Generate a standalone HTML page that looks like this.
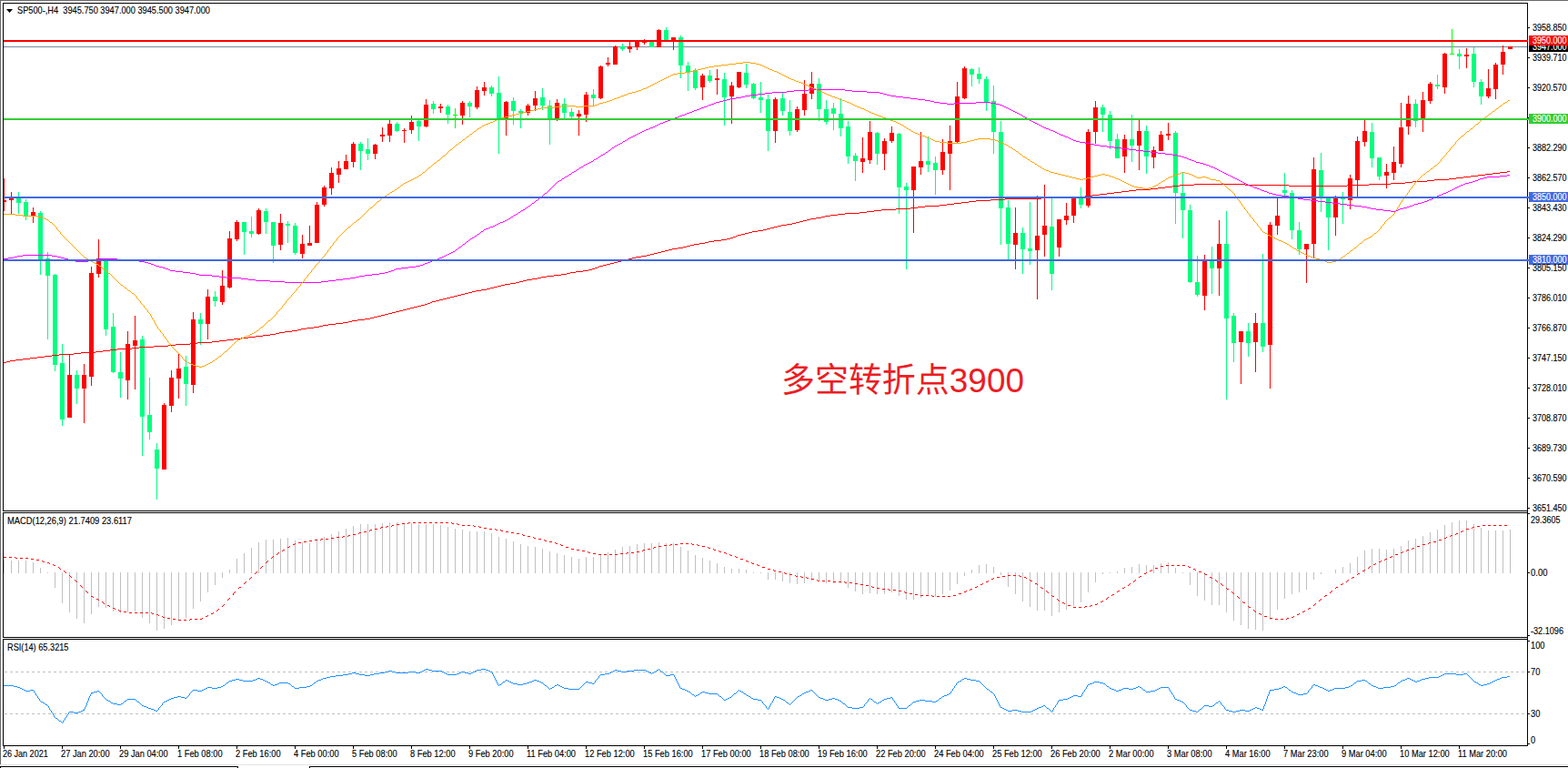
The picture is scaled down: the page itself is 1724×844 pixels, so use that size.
<!DOCTYPE html>
<html><head><meta charset="utf-8"><title>SP500-,H4</title>
<style>html,body{margin:0;padding:0;background:#fff;overflow:hidden}body{width:1724px;height:844px;font-family:"Liberation Sans",sans-serif}svg text{font-family:"Liberation Sans",sans-serif}</style>
</head><body>
<svg width="1724" height="844" viewBox="0 0 1724 844" font-family="Liberation Sans, sans-serif" style="display:block">
<rect x="0" y="0" width="1724" height="844" fill="#fff"/>
<g shape-rendering="crispEdges">
<rect x="0" y="0" width="1724" height="1" fill="#696969"/>
<rect x="0" y="0" width="1" height="840" fill="#696969"/>
<rect x="0" y="840" width="1724" height="1" fill="#e3e3e3"/>
<rect x="0" y="842" width="262" height="1" fill="#000"/>
<rect x="340" y="842" width="1384" height="1" fill="#000"/>
<rect x="261" y="842" width="1" height="2" fill="#000"/>
<rect x="340" y="842" width="1" height="2" fill="#000"/>
<rect x="0" y="842" width="1" height="2" fill="#000"/>
<rect x="3" y="3" width="1677" height="1" fill="#000"/>
<rect x="3" y="561" width="1677" height="1" fill="#000"/>
<rect x="3" y="3" width="1" height="559" fill="#000"/>
<rect x="3" y="563" width="1677" height="1" fill="#000"/>
<rect x="3" y="700" width="1677" height="1" fill="#000"/>
<rect x="3" y="563" width="1" height="138" fill="#000"/>
<rect x="3" y="702" width="1677" height="1" fill="#000"/>
<rect x="3" y="819" width="1677" height="1" fill="#000"/>
<rect x="3" y="702" width="1" height="118" fill="#000"/>
<rect x="1679" y="3" width="1" height="817" fill="#000"/>
</g>
<clipPath id="cm"><rect x="4" y="4" width="1675" height="557"/></clipPath>
<g clip-path="url(#cm)" shape-rendering="crispEdges">
<rect x="4" y="51" width="1676" height="1" fill="#778899"/>
</g>
<g clip-path="url(#cm)" shape-rendering="crispEdges">
<rect x="4" y="196" width="1" height="36" fill="#ff0000"/>
<rect x="2" y="220" width="5" height="2" fill="#ff0000"/>
<rect x="12" y="211" width="1" height="24" fill="#ff0000"/>
<rect x="10" y="217" width="5" height="3" fill="#ff0000"/>
<rect x="20" y="211" width="1" height="24" fill="#00ff7f"/>
<rect x="18" y="217" width="5" height="6" fill="#00ff7f"/>
<rect x="28" y="219" width="1" height="23" fill="#00ff7f"/>
<rect x="26" y="222" width="5" height="15" fill="#00ff7f"/>
<rect x="36" y="228" width="1" height="17" fill="#ff0000"/>
<rect x="34" y="233" width="5" height="4" fill="#ff0000"/>
<rect x="44" y="232" width="1" height="70" fill="#00ff7f"/>
<rect x="42" y="234" width="5" height="52" fill="#00ff7f"/>
<rect x="52" y="277" width="1" height="96" fill="#00ff7f"/>
<rect x="50" y="284" width="5" height="19" fill="#00ff7f"/>
<rect x="60" y="301" width="1" height="107" fill="#00ff7f"/>
<rect x="58" y="302" width="5" height="99" fill="#00ff7f"/>
<rect x="68" y="378" width="1" height="90" fill="#00ff7f"/>
<rect x="66" y="399" width="5" height="62" fill="#00ff7f"/>
<rect x="76" y="389" width="1" height="70" fill="#ff0000"/>
<rect x="74" y="412" width="5" height="47" fill="#ff0000"/>
<rect x="84" y="407" width="1" height="37" fill="#00ff7f"/>
<rect x="82" y="412" width="5" height="15" fill="#00ff7f"/>
<rect x="92" y="400" width="1" height="65" fill="#ff0000"/>
<rect x="90" y="412" width="5" height="15" fill="#ff0000"/>
<rect x="100" y="293" width="1" height="131" fill="#ff0000"/>
<rect x="98" y="300" width="5" height="114" fill="#ff0000"/>
<rect x="108" y="263" width="1" height="42" fill="#ff0000"/>
<rect x="106" y="284" width="5" height="17" fill="#ff0000"/>
<rect x="116" y="284" width="1" height="85" fill="#00ff7f"/>
<rect x="114" y="286" width="5" height="76" fill="#00ff7f"/>
<rect x="124" y="344" width="1" height="66" fill="#00ff7f"/>
<rect x="122" y="359" width="5" height="50" fill="#00ff7f"/>
<rect x="132" y="387" width="1" height="50" fill="#00ff7f"/>
<rect x="130" y="409" width="5" height="7" fill="#00ff7f"/>
<rect x="140" y="364" width="1" height="75" fill="#ff0000"/>
<rect x="138" y="378" width="5" height="40" fill="#ff0000"/>
<rect x="148" y="347" width="1" height="81" fill="#ff0000"/>
<rect x="146" y="374" width="5" height="6" fill="#ff0000"/>
<rect x="156" y="369" width="1" height="132" fill="#00ff7f"/>
<rect x="154" y="373" width="5" height="85" fill="#00ff7f"/>
<rect x="164" y="415" width="1" height="68" fill="#00ff7f"/>
<rect x="162" y="456" width="5" height="19" fill="#00ff7f"/>
<rect x="172" y="487" width="1" height="62" fill="#00ff7f"/>
<rect x="170" y="494" width="5" height="21" fill="#00ff7f"/>
<rect x="180" y="443" width="1" height="73" fill="#ff0000"/>
<rect x="178" y="445" width="5" height="71" fill="#ff0000"/>
<rect x="188" y="407" width="1" height="46" fill="#ff0000"/>
<rect x="186" y="415" width="5" height="31" fill="#ff0000"/>
<rect x="196" y="388" width="1" height="50" fill="#ff0000"/>
<rect x="194" y="405" width="5" height="11" fill="#ff0000"/>
<rect x="204" y="391" width="1" height="55" fill="#00ff7f"/>
<rect x="202" y="403" width="5" height="19" fill="#00ff7f"/>
<rect x="212" y="343" width="1" height="89" fill="#ff0000"/>
<rect x="210" y="351" width="5" height="72" fill="#ff0000"/>
<rect x="220" y="344" width="1" height="35" fill="#00ff7f"/>
<rect x="218" y="351" width="5" height="5" fill="#00ff7f"/>
<rect x="228" y="318" width="1" height="55" fill="#ff0000"/>
<rect x="226" y="326" width="5" height="30" fill="#ff0000"/>
<rect x="236" y="320" width="1" height="17" fill="#00ff7f"/>
<rect x="234" y="326" width="5" height="5" fill="#00ff7f"/>
<rect x="244" y="297" width="1" height="38" fill="#ff0000"/>
<rect x="242" y="314" width="5" height="18" fill="#ff0000"/>
<rect x="252" y="254" width="1" height="63" fill="#ff0000"/>
<rect x="250" y="262" width="5" height="54" fill="#ff0000"/>
<rect x="260" y="242" width="1" height="23" fill="#ff0000"/>
<rect x="258" y="244" width="5" height="19" fill="#ff0000"/>
<rect x="268" y="244" width="1" height="36" fill="#00ff7f"/>
<rect x="266" y="244" width="5" height="11" fill="#00ff7f"/>
<rect x="276" y="238" width="1" height="23" fill="#00ff7f"/>
<rect x="274" y="254" width="5" height="3" fill="#00ff7f"/>
<rect x="284" y="229" width="1" height="29" fill="#ff0000"/>
<rect x="282" y="231" width="5" height="26" fill="#ff0000"/>
<rect x="292" y="229" width="1" height="28" fill="#00ff7f"/>
<rect x="290" y="232" width="5" height="12" fill="#00ff7f"/>
<rect x="300" y="244" width="1" height="45" fill="#00ff7f"/>
<rect x="298" y="244" width="5" height="26" fill="#00ff7f"/>
<rect x="308" y="235" width="1" height="40" fill="#ff0000"/>
<rect x="306" y="245" width="5" height="24" fill="#ff0000"/>
<rect x="316" y="243" width="1" height="24" fill="#00ff7f"/>
<rect x="314" y="246" width="5" height="2" fill="#00ff7f"/>
<rect x="324" y="245" width="1" height="35" fill="#00ff7f"/>
<rect x="322" y="248" width="5" height="30" fill="#00ff7f"/>
<rect x="332" y="258" width="1" height="26" fill="#ff0000"/>
<rect x="330" y="268" width="5" height="11" fill="#ff0000"/>
<rect x="340" y="248" width="1" height="21" fill="#ff0000"/>
<rect x="338" y="267" width="5" height="3" fill="#ff0000"/>
<rect x="348" y="222" width="1" height="45" fill="#ff0000"/>
<rect x="346" y="225" width="5" height="42" fill="#ff0000"/>
<rect x="356" y="204" width="1" height="23" fill="#ff0000"/>
<rect x="354" y="206" width="5" height="19" fill="#ff0000"/>
<rect x="364" y="184" width="1" height="30" fill="#ff0000"/>
<rect x="362" y="190" width="5" height="17" fill="#ff0000"/>
<rect x="372" y="177" width="1" height="24" fill="#ff0000"/>
<rect x="370" y="185" width="5" height="7" fill="#ff0000"/>
<rect x="380" y="170" width="1" height="16" fill="#ff0000"/>
<rect x="378" y="177" width="5" height="9" fill="#ff0000"/>
<rect x="388" y="156" width="1" height="28" fill="#ff0000"/>
<rect x="386" y="158" width="5" height="20" fill="#ff0000"/>
<rect x="396" y="156" width="1" height="31" fill="#00ff7f"/>
<rect x="394" y="158" width="5" height="8" fill="#00ff7f"/>
<rect x="404" y="152" width="1" height="24" fill="#00ff7f"/>
<rect x="402" y="164" width="5" height="5" fill="#00ff7f"/>
<rect x="412" y="158" width="1" height="17" fill="#ff0000"/>
<rect x="410" y="159" width="5" height="10" fill="#ff0000"/>
<rect x="420" y="140" width="1" height="16" fill="#ff0000"/>
<rect x="418" y="148" width="5" height="2" fill="#ff0000"/>
<rect x="428" y="131" width="1" height="25" fill="#ff0000"/>
<rect x="426" y="136" width="5" height="13" fill="#ff0000"/>
<rect x="436" y="134" width="1" height="11" fill="#00ff7f"/>
<rect x="434" y="136" width="5" height="8" fill="#00ff7f"/>
<rect x="444" y="141" width="1" height="16" fill="#ff0000"/>
<rect x="442" y="143" width="5" height="1" fill="#ff0000"/>
<rect x="452" y="127" width="1" height="20" fill="#ff0000"/>
<rect x="450" y="134" width="5" height="9" fill="#ff0000"/>
<rect x="460" y="131" width="1" height="24" fill="#00ff7f"/>
<rect x="458" y="133" width="5" height="6" fill="#00ff7f"/>
<rect x="468" y="109" width="1" height="31" fill="#ff0000"/>
<rect x="466" y="115" width="5" height="24" fill="#ff0000"/>
<rect x="476" y="111" width="1" height="14" fill="#00ff7f"/>
<rect x="474" y="114" width="5" height="6" fill="#00ff7f"/>
<rect x="484" y="114" width="1" height="10" fill="#ff0000"/>
<rect x="482" y="117" width="5" height="2" fill="#ff0000"/>
<rect x="492" y="115" width="1" height="21" fill="#00ff7f"/>
<rect x="490" y="117" width="5" height="9" fill="#00ff7f"/>
<rect x="500" y="119" width="1" height="22" fill="#00ff00"/>
<rect x="498" y="126" width="5" height="1" fill="#00ff00"/>
<rect x="508" y="111" width="1" height="26" fill="#ff0000"/>
<rect x="506" y="113" width="5" height="14" fill="#ff0000"/>
<rect x="516" y="111" width="1" height="18" fill="#00ff7f"/>
<rect x="514" y="113" width="5" height="4" fill="#00ff7f"/>
<rect x="524" y="95" width="1" height="25" fill="#ff0000"/>
<rect x="522" y="99" width="5" height="19" fill="#ff0000"/>
<rect x="532" y="90" width="1" height="15" fill="#ff0000"/>
<rect x="530" y="96" width="5" height="4" fill="#ff0000"/>
<rect x="540" y="94" width="1" height="12" fill="#00ff7f"/>
<rect x="538" y="96" width="5" height="7" fill="#00ff7f"/>
<rect x="548" y="84" width="1" height="85" fill="#00ff7f"/>
<rect x="546" y="102" width="5" height="30" fill="#00ff7f"/>
<rect x="556" y="111" width="1" height="38" fill="#ff0000"/>
<rect x="554" y="112" width="5" height="18" fill="#ff0000"/>
<rect x="564" y="107" width="1" height="30" fill="#00ff7f"/>
<rect x="562" y="111" width="5" height="11" fill="#00ff7f"/>
<rect x="572" y="120" width="1" height="21" fill="#00ff7f"/>
<rect x="570" y="122" width="5" height="2" fill="#00ff7f"/>
<rect x="580" y="114" width="1" height="13" fill="#ff0000"/>
<rect x="578" y="116" width="5" height="8" fill="#ff0000"/>
<rect x="588" y="100" width="1" height="22" fill="#ff0000"/>
<rect x="586" y="108" width="5" height="8" fill="#ff0000"/>
<rect x="596" y="97" width="1" height="24" fill="#00ff7f"/>
<rect x="594" y="107" width="5" height="9" fill="#00ff7f"/>
<rect x="604" y="110" width="1" height="49" fill="#00ff7f"/>
<rect x="602" y="116" width="5" height="15" fill="#00ff7f"/>
<rect x="612" y="109" width="1" height="24" fill="#ff0000"/>
<rect x="610" y="113" width="5" height="18" fill="#ff0000"/>
<rect x="620" y="108" width="1" height="22" fill="#00ff7f"/>
<rect x="618" y="114" width="5" height="10" fill="#00ff7f"/>
<rect x="628" y="119" width="1" height="11" fill="#00ff7f"/>
<rect x="626" y="123" width="5" height="5" fill="#00ff7f"/>
<rect x="636" y="121" width="1" height="28" fill="#ff0000"/>
<rect x="634" y="125" width="5" height="3" fill="#ff0000"/>
<rect x="644" y="101" width="1" height="33" fill="#ff0000"/>
<rect x="642" y="104" width="5" height="22" fill="#ff0000"/>
<rect x="652" y="98" width="1" height="19" fill="#00ff7f"/>
<rect x="650" y="104" width="5" height="4" fill="#00ff7f"/>
<rect x="660" y="72" width="1" height="37" fill="#ff0000"/>
<rect x="658" y="73" width="5" height="35" fill="#ff0000"/>
<rect x="668" y="63" width="1" height="10" fill="#ff0000"/>
<rect x="666" y="69" width="5" height="2" fill="#ff0000"/>
<rect x="676" y="50" width="1" height="21" fill="#ff0000"/>
<rect x="674" y="51" width="5" height="20" fill="#ff0000"/>
<rect x="684" y="48" width="1" height="8" fill="#00ff7f"/>
<rect x="682" y="51" width="5" height="3" fill="#00ff7f"/>
<rect x="692" y="45" width="1" height="13" fill="#ff0000"/>
<rect x="690" y="51" width="5" height="3" fill="#ff0000"/>
<rect x="700" y="44" width="1" height="11" fill="#ff0000"/>
<rect x="698" y="45" width="5" height="7" fill="#ff0000"/>
<rect x="708" y="43" width="1" height="6" fill="#ff0000"/>
<rect x="706" y="44" width="5" height="3" fill="#ff0000"/>
<rect x="716" y="46" width="1" height="6" fill="#00ff7f"/>
<rect x="714" y="46" width="5" height="6" fill="#00ff7f"/>
<rect x="724" y="32" width="1" height="20" fill="#ff0000"/>
<rect x="722" y="33" width="5" height="19" fill="#ff0000"/>
<rect x="732" y="30" width="1" height="14" fill="#00ff7f"/>
<rect x="730" y="33" width="5" height="11" fill="#00ff7f"/>
<rect x="740" y="41" width="1" height="14" fill="#ff0000"/>
<rect x="738" y="41" width="5" height="4" fill="#ff0000"/>
<rect x="748" y="39" width="1" height="47" fill="#00ff7f"/>
<rect x="746" y="41" width="5" height="31" fill="#00ff7f"/>
<rect x="756" y="68" width="1" height="32" fill="#00ff7f"/>
<rect x="754" y="72" width="5" height="7" fill="#00ff7f"/>
<rect x="764" y="75" width="1" height="24" fill="#00ff7f"/>
<rect x="762" y="77" width="5" height="20" fill="#00ff7f"/>
<rect x="772" y="81" width="1" height="29" fill="#ff0000"/>
<rect x="770" y="83" width="5" height="13" fill="#ff0000"/>
<rect x="780" y="77" width="1" height="14" fill="#00ff7f"/>
<rect x="778" y="83" width="5" height="6" fill="#00ff7f"/>
<rect x="788" y="76" width="1" height="28" fill="#ff0000"/>
<rect x="786" y="86" width="5" height="2" fill="#ff0000"/>
<rect x="796" y="80" width="1" height="58" fill="#00ff7f"/>
<rect x="794" y="87" width="5" height="20" fill="#00ff7f"/>
<rect x="804" y="90" width="1" height="46" fill="#ff0000"/>
<rect x="802" y="94" width="5" height="12" fill="#ff0000"/>
<rect x="812" y="79" width="1" height="18" fill="#ff0000"/>
<rect x="810" y="79" width="5" height="17" fill="#ff0000"/>
<rect x="820" y="70" width="1" height="27" fill="#00ff7f"/>
<rect x="818" y="80" width="5" height="13" fill="#00ff7f"/>
<rect x="828" y="91" width="1" height="18" fill="#00ff7f"/>
<rect x="826" y="92" width="5" height="16" fill="#00ff7f"/>
<rect x="836" y="90" width="1" height="34" fill="#00ff7f"/>
<rect x="834" y="107" width="5" height="3" fill="#00ff7f"/>
<rect x="844" y="104" width="1" height="62" fill="#00ff7f"/>
<rect x="842" y="109" width="5" height="35" fill="#00ff7f"/>
<rect x="852" y="107" width="1" height="50" fill="#ff0000"/>
<rect x="850" y="109" width="5" height="35" fill="#ff0000"/>
<rect x="860" y="101" width="1" height="26" fill="#00ff7f"/>
<rect x="858" y="108" width="5" height="14" fill="#00ff7f"/>
<rect x="868" y="110" width="1" height="39" fill="#00ff7f"/>
<rect x="866" y="123" width="5" height="21" fill="#00ff7f"/>
<rect x="876" y="117" width="1" height="28" fill="#ff0000"/>
<rect x="874" y="120" width="5" height="23" fill="#ff0000"/>
<rect x="884" y="88" width="1" height="39" fill="#ff0000"/>
<rect x="882" y="103" width="5" height="18" fill="#ff0000"/>
<rect x="892" y="79" width="1" height="30" fill="#ff0000"/>
<rect x="890" y="92" width="5" height="11" fill="#ff0000"/>
<rect x="900" y="86" width="1" height="47" fill="#00ff7f"/>
<rect x="898" y="92" width="5" height="28" fill="#00ff7f"/>
<rect x="908" y="110" width="1" height="27" fill="#00ff7f"/>
<rect x="906" y="120" width="5" height="14" fill="#00ff7f"/>
<rect x="916" y="113" width="1" height="30" fill="#00ff7f"/>
<rect x="914" y="119" width="5" height="6" fill="#00ff7f"/>
<rect x="924" y="108" width="1" height="42" fill="#00ff7f"/>
<rect x="922" y="125" width="5" height="16" fill="#00ff7f"/>
<rect x="932" y="133" width="1" height="47" fill="#00ff7f"/>
<rect x="930" y="139" width="5" height="33" fill="#00ff7f"/>
<rect x="940" y="168" width="1" height="31" fill="#00ff7f"/>
<rect x="938" y="171" width="5" height="6" fill="#00ff7f"/>
<rect x="948" y="151" width="1" height="39" fill="#ff0000"/>
<rect x="946" y="174" width="5" height="4" fill="#ff0000"/>
<rect x="956" y="133" width="1" height="47" fill="#ff0000"/>
<rect x="954" y="145" width="5" height="31" fill="#ff0000"/>
<rect x="964" y="145" width="1" height="36" fill="#00ff7f"/>
<rect x="962" y="146" width="5" height="23" fill="#00ff7f"/>
<rect x="972" y="152" width="1" height="35" fill="#ff0000"/>
<rect x="970" y="155" width="5" height="14" fill="#ff0000"/>
<rect x="980" y="139" width="1" height="18" fill="#ff0000"/>
<rect x="978" y="146" width="5" height="9" fill="#ff0000"/>
<rect x="988" y="146" width="1" height="89" fill="#00ff7f"/>
<rect x="986" y="147" width="5" height="59" fill="#00ff7f"/>
<rect x="996" y="201" width="1" height="95" fill="#00ff7f"/>
<rect x="994" y="205" width="5" height="4" fill="#00ff7f"/>
<rect x="1004" y="183" width="1" height="73" fill="#ff0000"/>
<rect x="1002" y="183" width="5" height="26" fill="#ff0000"/>
<rect x="1012" y="145" width="1" height="47" fill="#ff0000"/>
<rect x="1010" y="177" width="5" height="7" fill="#ff0000"/>
<rect x="1020" y="150" width="1" height="39" fill="#00ff7f"/>
<rect x="1018" y="177" width="5" height="4" fill="#00ff7f"/>
<rect x="1028" y="172" width="1" height="42" fill="#00ff7f"/>
<rect x="1026" y="179" width="5" height="8" fill="#00ff7f"/>
<rect x="1036" y="153" width="1" height="39" fill="#ff0000"/>
<rect x="1034" y="167" width="5" height="20" fill="#ff0000"/>
<rect x="1044" y="138" width="1" height="71" fill="#ff0000"/>
<rect x="1042" y="155" width="5" height="14" fill="#ff0000"/>
<rect x="1052" y="90" width="1" height="67" fill="#ff0000"/>
<rect x="1050" y="106" width="5" height="50" fill="#ff0000"/>
<rect x="1060" y="73" width="1" height="36" fill="#ff0000"/>
<rect x="1058" y="75" width="5" height="33" fill="#ff0000"/>
<rect x="1068" y="75" width="1" height="20" fill="#00ff7f"/>
<rect x="1066" y="76" width="5" height="6" fill="#00ff7f"/>
<rect x="1076" y="74" width="1" height="18" fill="#00ff7f"/>
<rect x="1074" y="81" width="5" height="6" fill="#00ff7f"/>
<rect x="1084" y="84" width="1" height="38" fill="#00ff7f"/>
<rect x="1082" y="87" width="5" height="26" fill="#00ff7f"/>
<rect x="1092" y="94" width="1" height="75" fill="#00ff7f"/>
<rect x="1090" y="111" width="5" height="34" fill="#00ff7f"/>
<rect x="1100" y="133" width="1" height="136" fill="#00ff7f"/>
<rect x="1098" y="145" width="5" height="84" fill="#00ff7f"/>
<rect x="1108" y="220" width="1" height="65" fill="#00ff7f"/>
<rect x="1106" y="228" width="5" height="40" fill="#00ff7f"/>
<rect x="1116" y="228" width="1" height="68" fill="#ff0000"/>
<rect x="1114" y="256" width="5" height="13" fill="#ff0000"/>
<rect x="1124" y="250" width="1" height="51" fill="#00ff7f"/>
<rect x="1122" y="256" width="5" height="18" fill="#00ff7f"/>
<rect x="1132" y="222" width="1" height="69" fill="#00ff7f"/>
<rect x="1130" y="273" width="5" height="3" fill="#00ff7f"/>
<rect x="1140" y="215" width="1" height="114" fill="#ff0000"/>
<rect x="1138" y="259" width="5" height="16" fill="#ff0000"/>
<rect x="1148" y="203" width="1" height="79" fill="#ff0000"/>
<rect x="1146" y="248" width="5" height="10" fill="#ff0000"/>
<rect x="1156" y="218" width="1" height="101" fill="#00ff7f"/>
<rect x="1154" y="249" width="5" height="52" fill="#00ff7f"/>
<rect x="1164" y="241" width="1" height="41" fill="#ff0000"/>
<rect x="1162" y="241" width="5" height="31" fill="#ff0000"/>
<rect x="1172" y="223" width="1" height="24" fill="#ff0000"/>
<rect x="1170" y="237" width="5" height="5" fill="#ff0000"/>
<rect x="1180" y="217" width="1" height="28" fill="#ff0000"/>
<rect x="1178" y="218" width="5" height="19" fill="#ff0000"/>
<rect x="1188" y="206" width="1" height="23" fill="#00ff7f"/>
<rect x="1186" y="217" width="5" height="8" fill="#00ff7f"/>
<rect x="1196" y="142" width="1" height="86" fill="#ff0000"/>
<rect x="1194" y="145" width="5" height="81" fill="#ff0000"/>
<rect x="1204" y="111" width="1" height="47" fill="#ff0000"/>
<rect x="1202" y="118" width="5" height="27" fill="#ff0000"/>
<rect x="1212" y="115" width="1" height="30" fill="#00ff7f"/>
<rect x="1210" y="118" width="5" height="8" fill="#00ff7f"/>
<rect x="1220" y="122" width="1" height="42" fill="#00ff7f"/>
<rect x="1218" y="126" width="5" height="29" fill="#00ff7f"/>
<rect x="1228" y="147" width="1" height="27" fill="#00ff7f"/>
<rect x="1226" y="153" width="5" height="21" fill="#00ff7f"/>
<rect x="1236" y="148" width="1" height="42" fill="#ff0000"/>
<rect x="1234" y="153" width="5" height="19" fill="#ff0000"/>
<rect x="1244" y="126" width="1" height="52" fill="#00ff7f"/>
<rect x="1242" y="153" width="5" height="7" fill="#00ff7f"/>
<rect x="1252" y="131" width="1" height="56" fill="#ff0000"/>
<rect x="1250" y="144" width="5" height="16" fill="#ff0000"/>
<rect x="1260" y="138" width="1" height="53" fill="#00ff7f"/>
<rect x="1258" y="144" width="5" height="28" fill="#00ff7f"/>
<rect x="1268" y="161" width="1" height="24" fill="#ff0000"/>
<rect x="1266" y="165" width="5" height="8" fill="#ff0000"/>
<rect x="1276" y="144" width="1" height="22" fill="#ff0000"/>
<rect x="1274" y="148" width="5" height="18" fill="#ff0000"/>
<rect x="1284" y="135" width="1" height="19" fill="#ff0000"/>
<rect x="1282" y="147" width="5" height="2" fill="#ff0000"/>
<rect x="1292" y="144" width="1" height="102" fill="#00ff7f"/>
<rect x="1290" y="146" width="5" height="66" fill="#00ff7f"/>
<rect x="1300" y="190" width="1" height="72" fill="#00ff7f"/>
<rect x="1298" y="212" width="5" height="19" fill="#00ff7f"/>
<rect x="1308" y="225" width="1" height="86" fill="#00ff7f"/>
<rect x="1306" y="231" width="5" height="79" fill="#00ff7f"/>
<rect x="1316" y="281" width="1" height="45" fill="#00ff7f"/>
<rect x="1314" y="310" width="5" height="14" fill="#00ff7f"/>
<rect x="1324" y="280" width="1" height="61" fill="#ff0000"/>
<rect x="1322" y="287" width="5" height="38" fill="#ff0000"/>
<rect x="1332" y="271" width="1" height="52" fill="#00ff7f"/>
<rect x="1330" y="287" width="5" height="8" fill="#00ff7f"/>
<rect x="1340" y="242" width="1" height="83" fill="#ff0000"/>
<rect x="1338" y="268" width="5" height="27" fill="#ff0000"/>
<rect x="1348" y="232" width="1" height="207" fill="#00ff7f"/>
<rect x="1346" y="268" width="5" height="82" fill="#00ff7f"/>
<rect x="1356" y="344" width="1" height="54" fill="#00ff7f"/>
<rect x="1354" y="347" width="5" height="30" fill="#00ff7f"/>
<rect x="1364" y="364" width="1" height="58" fill="#ff0000"/>
<rect x="1362" y="364" width="5" height="12" fill="#ff0000"/>
<rect x="1372" y="355" width="1" height="37" fill="#00ff7f"/>
<rect x="1370" y="364" width="5" height="13" fill="#00ff7f"/>
<rect x="1380" y="344" width="1" height="65" fill="#ff0000"/>
<rect x="1378" y="355" width="5" height="21" fill="#ff0000"/>
<rect x="1388" y="279" width="1" height="108" fill="#00ff7f"/>
<rect x="1386" y="355" width="5" height="26" fill="#00ff7f"/>
<rect x="1396" y="244" width="1" height="183" fill="#ff0000"/>
<rect x="1394" y="247" width="5" height="132" fill="#ff0000"/>
<rect x="1404" y="218" width="1" height="40" fill="#ff0000"/>
<rect x="1402" y="237" width="5" height="11" fill="#ff0000"/>
<rect x="1412" y="190" width="1" height="26" fill="#00ff7f"/>
<rect x="1410" y="209" width="5" height="3" fill="#00ff7f"/>
<rect x="1420" y="209" width="1" height="54" fill="#00ff7f"/>
<rect x="1418" y="212" width="5" height="41" fill="#00ff7f"/>
<rect x="1428" y="244" width="1" height="36" fill="#00ff7f"/>
<rect x="1426" y="253" width="5" height="21" fill="#00ff7f"/>
<rect x="1436" y="268" width="1" height="43" fill="#ff0000"/>
<rect x="1434" y="268" width="5" height="6" fill="#ff0000"/>
<rect x="1444" y="173" width="1" height="111" fill="#ff0000"/>
<rect x="1442" y="186" width="5" height="82" fill="#ff0000"/>
<rect x="1452" y="168" width="1" height="65" fill="#00ff7f"/>
<rect x="1450" y="187" width="5" height="31" fill="#00ff7f"/>
<rect x="1460" y="218" width="1" height="57" fill="#00ff7f"/>
<rect x="1458" y="218" width="5" height="21" fill="#00ff7f"/>
<rect x="1468" y="215" width="1" height="44" fill="#ff0000"/>
<rect x="1466" y="218" width="5" height="21" fill="#ff0000"/>
<rect x="1476" y="211" width="1" height="35" fill="#00ff7f"/>
<rect x="1474" y="217" width="5" height="2" fill="#00ff7f"/>
<rect x="1484" y="192" width="1" height="38" fill="#ff0000"/>
<rect x="1482" y="196" width="5" height="24" fill="#ff0000"/>
<rect x="1492" y="150" width="1" height="66" fill="#ff0000"/>
<rect x="1490" y="155" width="5" height="43" fill="#ff0000"/>
<rect x="1500" y="131" width="1" height="30" fill="#ff0000"/>
<rect x="1498" y="144" width="5" height="12" fill="#ff0000"/>
<rect x="1508" y="135" width="1" height="49" fill="#00ff7f"/>
<rect x="1506" y="145" width="5" height="29" fill="#00ff7f"/>
<rect x="1516" y="173" width="1" height="25" fill="#00ff7f"/>
<rect x="1514" y="173" width="5" height="21" fill="#00ff7f"/>
<rect x="1524" y="180" width="1" height="27" fill="#ff0000"/>
<rect x="1522" y="189" width="5" height="4" fill="#ff0000"/>
<rect x="1532" y="161" width="1" height="37" fill="#ff0000"/>
<rect x="1530" y="178" width="5" height="12" fill="#ff0000"/>
<rect x="1540" y="113" width="1" height="71" fill="#ff0000"/>
<rect x="1538" y="140" width="5" height="40" fill="#ff0000"/>
<rect x="1548" y="105" width="1" height="43" fill="#ff0000"/>
<rect x="1546" y="114" width="5" height="25" fill="#ff0000"/>
<rect x="1556" y="109" width="1" height="31" fill="#00ff7f"/>
<rect x="1554" y="114" width="5" height="19" fill="#00ff7f"/>
<rect x="1564" y="101" width="1" height="44" fill="#ff0000"/>
<rect x="1562" y="110" width="5" height="20" fill="#ff0000"/>
<rect x="1572" y="90" width="1" height="24" fill="#ff0000"/>
<rect x="1570" y="92" width="5" height="19" fill="#ff0000"/>
<rect x="1580" y="82" width="1" height="16" fill="#00ff7f"/>
<rect x="1578" y="93" width="5" height="2" fill="#00ff7f"/>
<rect x="1588" y="58" width="1" height="45" fill="#ff0000"/>
<rect x="1586" y="59" width="5" height="37" fill="#ff0000"/>
<rect x="1596" y="32" width="1" height="27" fill="#00ff00"/>
<rect x="1594" y="59" width="5" height="1" fill="#00ff00"/>
<rect x="1604" y="54" width="1" height="22" fill="#00ff7f"/>
<rect x="1602" y="59" width="5" height="3" fill="#00ff7f"/>
<rect x="1612" y="53" width="1" height="22" fill="#ff0000"/>
<rect x="1610" y="60" width="5" height="2" fill="#ff0000"/>
<rect x="1620" y="52" width="1" height="44" fill="#00ff7f"/>
<rect x="1618" y="59" width="5" height="31" fill="#00ff7f"/>
<rect x="1628" y="87" width="1" height="28" fill="#00ff7f"/>
<rect x="1626" y="90" width="5" height="16" fill="#00ff7f"/>
<rect x="1636" y="76" width="1" height="32" fill="#ff0000"/>
<rect x="1634" y="97" width="5" height="9" fill="#ff0000"/>
<rect x="1644" y="69" width="1" height="40" fill="#ff0000"/>
<rect x="1642" y="71" width="5" height="27" fill="#ff0000"/>
<rect x="1652" y="50" width="1" height="32" fill="#ff0000"/>
<rect x="1650" y="57" width="5" height="14" fill="#ff0000"/>
<rect x="1660" y="51" width="1" height="3" fill="#ff0000"/>
<rect x="1658" y="51" width="5" height="3" fill="#ff0000"/>
<path fill="#ff0000" d="M1657 188h3v1h-3zM1649 189h8v1h-8zM1641 190h8v1h-8zM1633 191h8v1h-8zM1625 192h8v1h-8zM1617 193h8v1h-8zM1609 194h8v1h-8zM1601 195h8v1h-8zM1593 196h8v1h-8zM1577 197h16v1h-16zM1569 198h8v1h-8zM1553 199h16v1h-16zM1545 200h8v1h-8zM1529 201h16v1h-16zM1313 202h56v1h-56zM1505 202h24v1h-24zM1297 203h16v1h-16zM1369 203h48v1h-48zM1481 203h24v1h-24zM1289 204h8v1h-8zM1417 204h64v1h-64zM1281 205h8v1h-8zM1273 206h8v1h-8zM1265 207h8v1h-8zM1249 208h16v1h-16zM1241 209h8v1h-8zM1233 210h8v1h-8zM1225 211h8v1h-8zM1217 212h8v1h-8zM1209 213h8v1h-8zM1201 214h8v1h-8zM1193 215h8v1h-8zM1169 216h24v1h-24zM1145 217h24v1h-24zM1105 218h40v1h-40zM1089 219h16v1h-16zM1073 220h16v1h-16zM1065 221h8v1h-8zM1057 222h8v1h-8zM1049 223h8v1h-8zM1041 224h8v1h-8zM1033 225h8v1h-8zM1017 226h16v1h-16zM1009 227h8v1h-8zM1001 228h8v1h-8zM985 229h16v1h-16zM969 230h16v1h-16zM961 231h8v1h-8zM953 232h8v1h-8zM945 233h8v1h-8zM929 234h16v1h-16zM921 235h8v1h-8zM913 236h8v1h-8zM907 237h6v1h-6zM903 238h4v1h-4zM897 239h6v1h-6zM891 240h6v1h-6zM887 241h4v1h-4zM883 242h4v1h-4zM879 243h4v1h-4zM875 244h4v1h-4zM871 245h4v1h-4zM865 246h6v1h-6zM859 247h6v1h-6zM855 248h4v1h-4zM851 249h4v1h-4zM847 250h4v1h-4zM843 251h4v1h-4zM839 252h4v1h-4zM833 253h6v1h-6zM827 254h6v1h-6zM823 255h4v1h-4zM819 256h4v1h-4zM815 257h4v1h-4zM811 258h4v1h-4zM809 259h2v1h-2zM806 260h3v1h-3zM803 261h3v1h-3zM799 262h4v1h-4zM793 263h6v1h-6zM785 264h8v1h-8zM779 265h6v1h-6zM775 266h4v1h-4zM769 267h6v1h-6zM763 268h6v1h-6zM759 269h4v1h-4zM755 270h4v1h-4zM751 271h4v1h-4zM745 272h6v1h-6zM739 273h6v1h-6zM735 274h4v1h-4zM731 275h4v1h-4zM727 276h4v1h-4zM723 277h4v1h-4zM719 278h4v1h-4zM715 279h4v1h-4zM711 280h4v1h-4zM705 281h6v1h-6zM699 282h6v1h-6zM695 283h4v1h-4zM691 284h4v1h-4zM687 285h4v1h-4zM683 286h4v1h-4zM679 287h4v1h-4zM675 288h4v1h-4zM671 289h4v1h-4zM667 290h4v1h-4zM663 291h4v1h-4zM659 292h4v1h-4zM657 293h2v1h-2zM654 294h3v1h-3zM651 295h3v1h-3zM647 296h4v1h-4zM641 297h6v1h-6zM633 298h8v1h-8zM627 299h6v1h-6zM623 300h4v1h-4zM617 301h6v1h-6zM609 302h8v1h-8zM601 303h8v1h-8zM595 304h6v1h-6zM591 305h4v1h-4zM585 306h6v1h-6zM579 307h6v1h-6zM575 308h4v1h-4zM571 309h4v1h-4zM567 310h4v1h-4zM561 311h6v1h-6zM555 312h6v1h-6zM551 313h4v1h-4zM547 314h4v1h-4zM543 315h4v1h-4zM539 316h4v1h-4zM535 317h4v1h-4zM529 318h6v1h-6zM523 319h6v1h-6zM519 320h4v1h-4zM515 321h4v1h-4zM511 322h4v1h-4zM507 323h4v1h-4zM503 324h4v1h-4zM499 325h4v1h-4zM495 326h4v1h-4zM491 327h4v1h-4zM487 328h4v1h-4zM483 329h4v1h-4zM479 330h4v1h-4zM475 331h4v1h-4zM473 332h2v1h-2zM470 333h3v1h-3zM467 334h3v1h-3zM463 335h4v1h-4zM459 336h4v1h-4zM455 337h4v1h-4zM451 338h4v1h-4zM447 339h4v1h-4zM443 340h4v1h-4zM439 341h4v1h-4zM435 342h4v1h-4zM431 343h4v1h-4zM427 344h4v1h-4zM423 345h4v1h-4zM419 346h4v1h-4zM415 347h4v1h-4zM411 348h4v1h-4zM407 349h4v1h-4zM401 350h6v1h-6zM393 351h8v1h-8zM387 352h6v1h-6zM383 353h4v1h-4zM377 354h6v1h-6zM369 355h8v1h-8zM361 356h8v1h-8zM355 357h6v1h-6zM351 358h4v1h-4zM345 359h6v1h-6zM337 360h8v1h-8zM331 361h6v1h-6zM327 362h4v1h-4zM321 363h6v1h-6zM313 364h8v1h-8zM307 365h6v1h-6zM303 366h4v1h-4zM297 367h6v1h-6zM289 368h8v1h-8zM281 369h8v1h-8zM273 370h8v1h-8zM265 371h8v1h-8zM257 372h8v1h-8zM249 373h8v1h-8zM241 374h8v1h-8zM233 375h8v1h-8zM217 376h16v1h-16zM209 377h8v1h-8zM193 378h16v1h-16zM185 379h8v1h-8zM169 380h16v1h-16zM153 381h16v1h-16zM145 382h8v1h-8zM129 383h16v1h-16zM121 384h8v1h-8zM113 385h8v1h-8zM105 386h8v1h-8zM89 387h16v1h-16zM81 388h8v1h-8zM65 389h16v1h-16zM57 390h8v1h-8zM49 391h8v1h-8zM41 392h8v1h-8zM33 393h8v1h-8zM25 394h8v1h-8zM17 395h8v1h-8zM11 396h6v1h-6zM7 397h4v1h-4zM4 398h3v1h-3z"/>
<path fill="#ff00ff" d="M889 98h40v1h-40zM873 99h16v1h-16zM929 99h8v1h-8zM865 100h8v1h-8zM937 100h16v1h-16zM849 101h16v1h-16zM953 101h14v1h-14zM841 102h8v1h-8zM967 102h4v1h-4zM833 103h8v1h-8zM971 103h4v1h-4zM825 104h8v1h-8zM975 104h4v1h-4zM819 105h6v1h-6zM979 105h6v1h-6zM815 106h4v1h-4zM985 106h8v1h-8zM809 107h6v1h-6zM993 107h8v1h-8zM803 108h6v1h-6zM1001 108h8v1h-8zM799 109h4v1h-4zM1009 109h8v1h-8zM795 110h4v1h-4zM1017 110h6v1h-6zM791 111h4v1h-4zM1023 111h4v1h-4zM787 112h4v1h-4zM1027 112h6v1h-6zM1073 112h16v1h-16zM785 113h2v1h-2zM1033 113h8v1h-8zM1049 113h24v1h-24zM1089 113h6v1h-6zM782 114h3v1h-3zM1041 114h8v1h-8zM1095 114h4v1h-4zM779 115h3v1h-3zM1099 115h3v1h-3zM777 116h2v1h-2zM1102 116h2v1h-2zM774 117h3v1h-3zM1104 117h2v1h-2zM771 118h3v1h-3zM1106 118h2v1h-2zM769 119h2v1h-2zM1108 119h2v1h-2zM766 120h3v1h-3zM1110 120h2v1h-2zM763 121h3v1h-3zM1112 121h2v1h-2zM761 122h2v1h-2zM1114 122h2v1h-2zM758 123h3v1h-3zM1116 123h2v1h-2zM755 124h3v1h-3zM1118 124h2v1h-2zM753 125h2v1h-2zM1120 125h2v1h-2zM750 126h3v1h-3zM1122 126h2v1h-2zM747 127h3v1h-3zM1124 127h1v1h-1zM745 128h2v1h-2zM1125 128h2v1h-2zM742 129h3v1h-3zM1127 129h2v1h-2zM739 130h3v1h-3zM1129 130h1v1h-1zM737 131h2v1h-2zM1130 131h2v1h-2zM734 132h3v1h-3zM1132 132h2v1h-2zM731 133h3v1h-3zM1134 133h2v1h-2zM729 134h2v1h-2zM1136 134h2v1h-2zM726 135h3v1h-3zM1138 135h2v1h-2zM724 136h2v1h-2zM1140 136h2v1h-2zM722 137h2v1h-2zM1142 137h2v1h-2zM720 138h2v1h-2zM1144 138h2v1h-2zM718 139h2v1h-2zM1146 139h2v1h-2zM715 140h3v1h-3zM1148 140h2v1h-2zM713 141h2v1h-2zM1150 141h3v1h-3zM710 142h3v1h-3zM1153 142h2v1h-2zM708 143h2v1h-2zM1155 143h3v1h-3zM706 144h2v1h-2zM1158 144h2v1h-2zM704 145h2v1h-2zM1160 145h2v1h-2zM702 146h2v1h-2zM1162 146h2v1h-2zM700 147h2v1h-2zM1164 147h2v1h-2zM698 148h2v1h-2zM1166 148h3v1h-3zM696 149h2v1h-2zM1169 149h2v1h-2zM694 150h2v1h-2zM1171 150h3v1h-3zM692 151h2v1h-2zM1174 151h2v1h-2zM690 152h2v1h-2zM1176 152h2v1h-2zM689 153h1v1h-1zM1178 153h2v1h-2zM687 154h2v1h-2zM1180 154h3v1h-3zM685 155h2v1h-2zM1183 155h4v1h-4zM684 156h1v1h-1zM1187 156h6v1h-6zM682 157h2v1h-2zM1193 157h6v1h-6zM680 158h2v1h-2zM1199 158h4v1h-4zM678 159h2v1h-2zM1203 159h6v1h-6zM676 160h2v1h-2zM1209 160h8v1h-8zM675 161h1v1h-1zM1217 161h8v1h-8zM673 162h2v1h-2zM1225 162h8v1h-8zM672 163h1v1h-1zM1233 163h8v1h-8zM671 164h1v1h-1zM1241 164h8v1h-8zM669 165h2v1h-2zM1249 165h8v1h-8zM668 166h1v1h-1zM1257 166h8v1h-8zM666 167h2v1h-2zM1265 167h8v1h-8zM665 168h1v1h-1zM1273 168h8v1h-8zM663 169h2v1h-2zM1281 169h8v1h-8zM661 170h2v1h-2zM1289 170h6v1h-6zM660 171h1v1h-1zM1295 171h4v1h-4zM658 172h2v1h-2zM1299 172h3v1h-3zM657 173h1v1h-1zM1302 173h3v1h-3zM655 174h2v1h-2zM1305 174h2v1h-2zM653 175h2v1h-2zM1307 175h3v1h-3zM652 176h1v1h-1zM1310 176h3v1h-3zM650 177h2v1h-2zM1313 177h2v1h-2zM648 178h2v1h-2zM1315 178h4v1h-4zM646 179h2v1h-2zM1319 179h4v1h-4zM644 180h2v1h-2zM1323 180h3v1h-3zM642 181h2v1h-2zM1326 181h3v1h-3zM641 182h1v1h-1zM1329 182h2v1h-2zM639 183h2v1h-2zM1331 183h3v1h-3zM637 184h2v1h-2zM1334 184h2v1h-2zM636 185h1v1h-1zM1336 185h2v1h-2zM634 186h2v1h-2zM1338 186h2v1h-2zM633 187h1v1h-1zM1340 187h2v1h-2zM631 188h2v1h-2zM1342 188h2v1h-2zM629 189h2v1h-2zM1344 189h2v1h-2zM628 190h1v1h-1zM1346 190h2v1h-2zM626 191h2v1h-2zM1348 191h2v1h-2zM625 192h1v1h-1zM1350 192h2v1h-2zM1657 192h3v1h-3zM623 193h2v1h-2zM1352 193h2v1h-2zM1649 193h8v1h-8zM621 194h2v1h-2zM1354 194h2v1h-2zM1635 194h14v1h-14zM620 195h1v1h-1zM1356 195h2v1h-2zM1631 195h4v1h-4zM618 196h2v1h-2zM1358 196h2v1h-2zM1627 196h4v1h-4zM617 197h1v1h-1zM1360 197h2v1h-2zM1625 197h2v1h-2zM615 198h2v1h-2zM1362 198h2v1h-2zM1622 198h3v1h-3zM613 199h2v1h-2zM1364 199h2v1h-2zM1619 199h3v1h-3zM612 200h1v1h-1zM1366 200h2v1h-2zM1615 200h4v1h-4zM611 201h1v1h-1zM1368 201h2v1h-2zM1611 201h4v1h-4zM610 202h1v1h-1zM1370 202h2v1h-2zM1609 202h2v1h-2zM609 203h1v1h-1zM1372 203h2v1h-2zM1606 203h3v1h-3zM608 204h1v1h-1zM1374 204h3v1h-3zM1604 204h2v1h-2zM607 205h1v1h-1zM1377 205h2v1h-2zM1602 205h2v1h-2zM606 206h1v1h-1zM1379 206h3v1h-3zM1600 206h2v1h-2zM605 207h1v1h-1zM1382 207h3v1h-3zM1598 207h2v1h-2zM604 208h1v1h-1zM1385 208h2v1h-2zM1596 208h2v1h-2zM603 209h1v1h-1zM1387 209h3v1h-3zM1594 209h2v1h-2zM602 210h1v1h-1zM1390 210h3v1h-3zM1592 210h2v1h-2zM601 211h1v1h-1zM1393 211h2v1h-2zM1590 211h2v1h-2zM599 212h2v1h-2zM1395 212h4v1h-4zM1587 212h3v1h-3zM598 213h1v1h-1zM1399 213h4v1h-4zM1585 213h2v1h-2zM597 214h1v1h-1zM1403 214h6v1h-6zM1582 214h3v1h-3zM596 215h1v1h-1zM1409 215h8v1h-8zM1580 215h2v1h-2zM595 216h1v1h-1zM1417 216h6v1h-6zM1578 216h2v1h-2zM593 217h2v1h-2zM1423 217h4v1h-4zM1576 217h2v1h-2zM592 218h1v1h-1zM1427 218h6v1h-6zM1574 218h2v1h-2zM591 219h1v1h-1zM1433 219h8v1h-8zM1571 219h3v1h-3zM589 220h2v1h-2zM1441 220h8v1h-8zM1569 220h2v1h-2zM588 221h1v1h-1zM1449 221h8v1h-8zM1566 221h3v1h-3zM587 222h1v1h-1zM1457 222h8v1h-8zM1563 222h3v1h-3zM585 223h2v1h-2zM1465 223h8v1h-8zM1559 223h4v1h-4zM584 224h1v1h-1zM1473 224h8v1h-8zM1555 224h4v1h-4zM583 225h1v1h-1zM1481 225h8v1h-8zM1553 225h2v1h-2zM581 226h2v1h-2zM1489 226h8v1h-8zM1550 226h3v1h-3zM580 227h1v1h-1zM1497 227h6v1h-6zM1547 227h3v1h-3zM578 228h2v1h-2zM1503 228h4v1h-4zM1543 228h4v1h-4zM577 229h1v1h-1zM1507 229h6v1h-6zM1539 229h4v1h-4zM575 230h2v1h-2zM1513 230h8v1h-8zM1537 230h2v1h-2zM573 231h2v1h-2zM1521 231h8v1h-8zM1534 231h3v1h-3zM572 232h1v1h-1zM1529 232h5v1h-5zM570 233h2v1h-2zM569 234h1v1h-1zM567 235h2v1h-2zM565 236h2v1h-2zM564 237h1v1h-1zM562 238h2v1h-2zM561 239h1v1h-1zM559 240h2v1h-2zM557 241h2v1h-2zM555 242h2v1h-2zM553 243h2v1h-2zM550 244h3v1h-3zM548 245h2v1h-2zM546 246h2v1h-2zM544 247h2v1h-2zM542 248h2v1h-2zM539 249h3v1h-3zM537 250h2v1h-2zM534 251h3v1h-3zM532 252h2v1h-2zM531 253h1v1h-1zM529 254h2v1h-2zM528 255h1v1h-1zM527 256h1v1h-1zM525 257h2v1h-2zM524 258h1v1h-1zM522 259h2v1h-2zM521 260h1v1h-1zM519 261h2v1h-2zM517 262h2v1h-2zM516 263h1v1h-1zM515 264h1v1h-1zM513 265h2v1h-2zM512 266h1v1h-1zM511 267h1v1h-1zM509 268h2v1h-2zM508 269h1v1h-1zM507 270h1v1h-1zM505 271h2v1h-2zM504 272h1v1h-1zM503 273h1v1h-1zM501 274h2v1h-2zM500 275h1v1h-1zM498 276h2v1h-2zM496 277h2v1h-2zM494 278h2v1h-2zM492 279h2v1h-2zM25 280h32v1h-32zM490 280h2v1h-2zM19 281h6v1h-6zM57 281h6v1h-6zM488 281h2v1h-2zM15 282h4v1h-4zM63 282h4v1h-4zM486 282h2v1h-2zM9 283h6v1h-6zM67 283h4v1h-4zM483 283h3v1h-3zM4 284h5v1h-5zM71 284h4v1h-4zM107 284h22v1h-22zM481 284h2v1h-2zM75 285h4v1h-4zM103 285h4v1h-4zM129 285h16v1h-16zM478 285h3v1h-3zM79 286h4v1h-4zM97 286h6v1h-6zM145 286h8v1h-8zM475 286h3v1h-3zM83 287h14v1h-14zM153 287h6v1h-6zM473 287h2v1h-2zM159 288h4v1h-4zM470 288h3v1h-3zM163 289h3v1h-3zM467 289h3v1h-3zM166 290h3v1h-3zM465 290h2v1h-2zM169 291h2v1h-2zM462 291h3v1h-3zM171 292h4v1h-4zM457 292h5v1h-5zM175 293h4v1h-4zM449 293h8v1h-8zM179 294h3v1h-3zM441 294h8v1h-8zM182 295h3v1h-3zM435 295h6v1h-6zM185 296h2v1h-2zM433 296h2v1h-2zM187 297h6v1h-6zM430 297h3v1h-3zM193 298h8v1h-8zM427 298h3v1h-3zM201 299h8v1h-8zM423 299h4v1h-4zM209 300h6v1h-6zM417 300h6v1h-6zM215 301h4v1h-4zM409 301h8v1h-8zM219 302h14v1h-14zM401 302h8v1h-8zM233 303h8v1h-8zM395 303h6v1h-6zM241 304h8v1h-8zM391 304h4v1h-4zM249 305h16v1h-16zM385 305h6v1h-6zM265 306h8v1h-8zM377 306h8v1h-8zM273 307h8v1h-8zM369 307h8v1h-8zM281 308h16v1h-16zM361 308h8v1h-8zM297 309h16v1h-16zM353 309h8v1h-8zM313 310h40v1h-40z"/>
<path fill="#ffa500" d="M62 250h1v2h-1zM66 255h1v2h-1zM150 326h1v2h-1zM154 331h1v2h-1zM158 336h1v2h-1zM162 341h1v2h-1zM165 345h1v2h-1zM166 347h1v2h-1zM167 349h1v2h-1zM169 352h1v2h-1zM170 354h1v2h-1zM171 356h1v2h-1zM173 359h1v2h-1zM176 363h1v2h-1zM179 367h1v2h-1zM181 370h1v2h-1zM184 374h1v2h-1zM187 378h1v2h-1zM200 392h1v2h-1zM304 343h1v2h-1zM310 336h1v2h-1zM314 331h1v2h-1zM320 324h1v2h-1zM326 317h1v2h-1zM330 312h1v2h-1zM334 307h1v2h-1zM338 302h1v2h-1zM342 297h1v2h-1zM346 292h1v2h-1zM352 285h1v2h-1zM357 279h1v2h-1zM360 275h1v2h-1zM363 271h1v2h-1zM366 267h1v2h-1zM370 262h1v2h-1zM1357 213h1v2h-1zM1360 217h1v2h-1zM1363 221h1v2h-1zM1365 224h1v2h-1zM1368 228h1v2h-1zM1371 232h1v2h-1zM1374 236h1v2h-1zM1378 241h1v2h-1zM1382 246h1v2h-1zM1386 251h1v2h-1zM1518 249h1v2h-1zM1522 244h1v2h-1zM1533 233h1v2h-1zM1534 231h1v2h-1zM1536 228h1v2h-1zM1538 225h1v2h-1zM1539 223h1v2h-1zM1541 220h1v2h-1zM1544 216h1v2h-1zM1547 212h1v2h-1zM1549 209h1v2h-1zM1552 205h1v2h-1zM1555 201h1v2h-1zM1584 175h1v2h-1zM1590 168h1v2h-1zM1594 163h1v2h-1zM1600 156h1v2h-1zM817 68h8v1h-8zM809 69h8v1h-8zM825 69h6v1h-6zM801 70h8v1h-8zM831 70h4v1h-4zM793 71h8v1h-8zM835 71h3v1h-3zM785 72h8v1h-8zM838 72h2v1h-2zM779 73h6v1h-6zM840 73h2v1h-2zM775 74h4v1h-4zM842 74h2v1h-2zM771 75h4v1h-4zM844 75h2v1h-2zM767 76h4v1h-4zM846 76h3v1h-3zM763 77h4v1h-4zM849 77h2v1h-2zM759 78h4v1h-4zM851 78h3v1h-3zM753 79h6v1h-6zM854 79h2v1h-2zM745 80h8v1h-8zM856 80h2v1h-2zM740 81h5v1h-5zM858 81h2v1h-2zM738 82h2v1h-2zM860 82h2v1h-2zM736 83h2v1h-2zM862 83h2v1h-2zM734 84h2v1h-2zM864 84h2v1h-2zM732 85h2v1h-2zM866 85h2v1h-2zM730 86h2v1h-2zM868 86h2v1h-2zM728 87h2v1h-2zM870 87h3v1h-3zM726 88h2v1h-2zM873 88h2v1h-2zM724 89h2v1h-2zM875 89h3v1h-3zM722 90h2v1h-2zM878 90h3v1h-3zM720 91h2v1h-2zM881 91h2v1h-2zM718 92h2v1h-2zM883 92h3v1h-3zM716 93h2v1h-2zM886 93h2v1h-2zM714 94h2v1h-2zM888 94h2v1h-2zM712 95h2v1h-2zM890 95h2v1h-2zM710 96h2v1h-2zM892 96h2v1h-2zM707 97h3v1h-3zM894 97h3v1h-3zM705 98h2v1h-2zM897 98h2v1h-2zM702 99h3v1h-3zM899 99h3v1h-3zM699 100h3v1h-3zM902 100h2v1h-2zM695 101h4v1h-4zM904 101h2v1h-2zM691 102h4v1h-4zM906 102h2v1h-2zM689 103h2v1h-2zM908 103h2v1h-2zM686 104h3v1h-3zM910 104h3v1h-3zM683 105h3v1h-3zM913 105h2v1h-2zM681 106h2v1h-2zM915 106h3v1h-3zM678 107h3v1h-3zM918 107h3v1h-3zM675 108h3v1h-3zM921 108h2v1h-2zM673 109h2v1h-2zM923 109h3v1h-3zM670 110h3v1h-3zM926 110h3v1h-3zM1658 110h2v1h-2zM667 111h3v1h-3zM929 111h2v1h-2zM1657 111h1v1h-1zM663 112h4v1h-4zM931 112h3v1h-3zM1655 112h2v1h-2zM659 113h4v1h-4zM934 113h2v1h-2zM1653 113h2v1h-2zM657 114h2v1h-2zM936 114h2v1h-2zM1652 114h1v1h-1zM654 115h3v1h-3zM938 115h2v1h-2zM1651 115h1v1h-1zM617 116h16v1h-16zM641 116h13v1h-13zM940 116h2v1h-2zM1649 116h2v1h-2zM609 117h8v1h-8zM633 117h8v1h-8zM942 117h3v1h-3zM1648 117h1v1h-1zM595 118h14v1h-14zM945 118h2v1h-2zM1647 118h1v1h-1zM591 119h4v1h-4zM947 119h3v1h-3zM1645 119h2v1h-2zM587 120h4v1h-4zM950 120h2v1h-2zM1644 120h1v1h-1zM583 121h4v1h-4zM952 121h2v1h-2zM1643 121h1v1h-1zM579 122h4v1h-4zM954 122h2v1h-2zM1641 122h2v1h-2zM575 123h4v1h-4zM956 123h2v1h-2zM1640 123h1v1h-1zM571 124h4v1h-4zM958 124h3v1h-3zM1639 124h1v1h-1zM567 125h4v1h-4zM961 125h2v1h-2zM1637 125h2v1h-2zM563 126h4v1h-4zM963 126h3v1h-3zM1636 126h1v1h-1zM559 127h4v1h-4zM966 127h3v1h-3zM1635 127h1v1h-1zM555 128h4v1h-4zM969 128h2v1h-2zM1633 128h2v1h-2zM551 129h4v1h-4zM971 129h3v1h-3zM1632 129h1v1h-1zM548 130h3v1h-3zM974 130h3v1h-3zM1631 130h1v1h-1zM546 131h2v1h-2zM977 131h2v1h-2zM1629 131h2v1h-2zM544 132h2v1h-2zM979 132h3v1h-3zM1628 132h1v1h-1zM542 133h2v1h-2zM982 133h3v1h-3zM1627 133h1v1h-1zM539 134h3v1h-3zM985 134h2v1h-2zM1626 134h1v1h-1zM537 135h2v1h-2zM987 135h2v1h-2zM1625 135h1v1h-1zM534 136h3v1h-3zM989 136h2v1h-2zM1623 136h2v1h-2zM532 137h2v1h-2zM991 137h2v1h-2zM1622 137h1v1h-1zM530 138h2v1h-2zM993 138h1v1h-1zM1621 138h1v1h-1zM529 139h1v1h-1zM994 139h2v1h-2zM1620 139h1v1h-1zM527 140h2v1h-2zM996 140h1v1h-1zM1619 140h1v1h-1zM525 141h2v1h-2zM997 141h2v1h-2zM1617 141h2v1h-2zM524 142h1v1h-1zM999 142h2v1h-2zM1616 142h1v1h-1zM523 143h1v1h-1zM1001 143h1v1h-1zM1615 143h1v1h-1zM521 144h2v1h-2zM1002 144h2v1h-2zM1613 144h2v1h-2zM520 145h1v1h-1zM1004 145h2v1h-2zM1612 145h1v1h-1zM519 146h1v1h-1zM1006 146h3v1h-3zM1611 146h1v1h-1zM517 147h2v1h-2zM1009 147h2v1h-2zM1610 147h1v1h-1zM516 148h1v1h-1zM1011 148h3v1h-3zM1609 148h1v1h-1zM515 149h1v1h-1zM1014 149h3v1h-3zM1607 149h2v1h-2zM513 150h2v1h-2zM1017 150h2v1h-2zM1606 150h1v1h-1zM512 151h1v1h-1zM1019 151h3v1h-3zM1605 151h1v1h-1zM511 152h1v1h-1zM1022 152h2v1h-2zM1075 152h14v1h-14zM1604 152h1v1h-1zM509 153h2v1h-2zM1024 153h2v1h-2zM1071 153h4v1h-4zM1089 153h5v1h-5zM1603 153h1v1h-1zM508 154h1v1h-1zM1026 154h2v1h-2zM1067 154h4v1h-4zM1094 154h3v1h-3zM1602 154h1v1h-1zM507 155h1v1h-1zM1028 155h5v1h-5zM1063 155h4v1h-4zM1097 155h2v1h-2zM1601 155h1v1h-1zM505 156h2v1h-2zM1033 156h8v1h-8zM1057 156h6v1h-6zM1099 156h3v1h-3zM504 157h1v1h-1zM1041 157h16v1h-16zM1102 157h2v1h-2zM503 158h1v1h-1zM1104 158h2v1h-2zM1599 158h1v1h-1zM501 159h2v1h-2zM1106 159h2v1h-2zM1598 159h1v1h-1zM500 160h1v1h-1zM1108 160h1v1h-1zM1597 160h1v1h-1zM499 161h1v1h-1zM1109 161h2v1h-2zM1596 161h1v1h-1zM498 162h1v1h-1zM1111 162h2v1h-2zM1595 162h1v1h-1zM497 163h1v1h-1zM1113 163h1v1h-1zM495 164h2v1h-2zM1114 164h2v1h-2zM494 165h1v1h-1zM1116 165h1v1h-1zM1593 165h1v1h-1zM493 166h1v1h-1zM1117 166h2v1h-2zM1592 166h1v1h-1zM492 167h1v1h-1zM1119 167h1v1h-1zM1591 167h1v1h-1zM491 168h1v1h-1zM1120 168h1v1h-1zM490 169h1v1h-1zM1121 169h2v1h-2zM489 170h1v1h-1zM1123 170h1v1h-1zM1589 170h1v1h-1zM487 171h2v1h-2zM1124 171h1v1h-1zM1588 171h1v1h-1zM486 172h1v1h-1zM1125 172h2v1h-2zM1587 172h1v1h-1zM485 173h1v1h-1zM1127 173h2v1h-2zM1586 173h1v1h-1zM484 174h1v1h-1zM1129 174h1v1h-1zM1585 174h1v1h-1zM483 175h1v1h-1zM1130 175h2v1h-2zM481 176h2v1h-2zM1132 176h1v1h-1zM480 177h1v1h-1zM1133 177h2v1h-2zM1583 177h1v1h-1zM479 178h1v1h-1zM1135 178h2v1h-2zM1582 178h1v1h-1zM477 179h2v1h-2zM1137 179h1v1h-1zM1581 179h1v1h-1zM476 180h1v1h-1zM1138 180h2v1h-2zM1580 180h1v1h-1zM475 181h1v1h-1zM1140 181h1v1h-1zM1579 181h1v1h-1zM474 182h1v1h-1zM1141 182h2v1h-2zM1577 182h2v1h-2zM473 183h1v1h-1zM1143 183h2v1h-2zM1576 183h1v1h-1zM471 184h2v1h-2zM1145 184h1v1h-1zM1575 184h1v1h-1zM470 185h1v1h-1zM1146 185h2v1h-2zM1573 185h2v1h-2zM469 186h1v1h-1zM1148 186h2v1h-2zM1572 186h1v1h-1zM468 187h1v1h-1zM1150 187h3v1h-3zM1571 187h1v1h-1zM467 188h1v1h-1zM1153 188h2v1h-2zM1569 188h2v1h-2zM465 189h2v1h-2zM1155 189h4v1h-4zM1299 189h4v1h-4zM1568 189h1v1h-1zM464 190h1v1h-1zM1159 190h4v1h-4zM1297 190h2v1h-2zM1303 190h4v1h-4zM1567 190h1v1h-1zM463 191h1v1h-1zM1163 191h4v1h-4zM1211 191h4v1h-4zM1294 191h3v1h-3zM1307 191h3v1h-3zM1565 191h2v1h-2zM461 192h2v1h-2zM1167 192h4v1h-4zM1207 192h4v1h-4zM1215 192h4v1h-4zM1291 192h3v1h-3zM1310 192h2v1h-2zM1564 192h1v1h-1zM460 193h1v1h-1zM1171 193h4v1h-4zM1203 193h4v1h-4zM1219 193h3v1h-3zM1289 193h2v1h-2zM1312 193h2v1h-2zM1563 193h1v1h-1zM458 194h2v1h-2zM1175 194h4v1h-4zM1199 194h4v1h-4zM1222 194h3v1h-3zM1286 194h3v1h-3zM1314 194h2v1h-2zM1321 194h5v1h-5zM1562 194h1v1h-1zM456 195h2v1h-2zM1179 195h4v1h-4zM1195 195h4v1h-4zM1225 195h2v1h-2zM1284 195h2v1h-2zM1316 195h5v1h-5zM1326 195h3v1h-3zM1561 195h1v1h-1zM454 196h2v1h-2zM1183 196h4v1h-4zM1191 196h4v1h-4zM1227 196h3v1h-3zM1282 196h2v1h-2zM1329 196h2v1h-2zM1560 196h1v1h-1zM452 197h2v1h-2zM1187 197h4v1h-4zM1230 197h2v1h-2zM1281 197h1v1h-1zM1331 197h6v1h-6zM1559 197h1v1h-1zM450 198h2v1h-2zM1232 198h2v1h-2zM1279 198h2v1h-2zM1337 198h4v1h-4zM1558 198h1v1h-1zM448 199h2v1h-2zM1234 199h2v1h-2zM1277 199h2v1h-2zM1341 199h1v1h-1zM1557 199h1v1h-1zM446 200h2v1h-2zM1236 200h2v1h-2zM1276 200h1v1h-1zM1342 200h1v1h-1zM1556 200h1v1h-1zM444 201h2v1h-2zM1238 201h2v1h-2zM1274 201h2v1h-2zM1343 201h2v1h-2zM443 202h1v1h-1zM1240 202h2v1h-2zM1273 202h1v1h-1zM1345 202h1v1h-1zM441 203h2v1h-2zM1242 203h2v1h-2zM1271 203h2v1h-2zM1346 203h1v1h-1zM1554 203h1v1h-1zM440 204h1v1h-1zM1244 204h3v1h-3zM1269 204h2v1h-2zM1347 204h1v1h-1zM1553 204h1v1h-1zM439 205h1v1h-1zM1247 205h4v1h-4zM1267 205h2v1h-2zM1348 205h1v1h-1zM437 206h2v1h-2zM1251 206h6v1h-6zM1263 206h4v1h-4zM1349 206h1v1h-1zM436 207h1v1h-1zM1257 207h6v1h-6zM1350 207h1v1h-1zM1551 207h1v1h-1zM434 208h2v1h-2zM1351 208h2v1h-2zM1550 208h1v1h-1zM433 209h1v1h-1zM1353 209h1v1h-1zM431 210h2v1h-2zM1354 210h1v1h-1zM429 211h2v1h-2zM1355 211h1v1h-1zM1548 211h1v1h-1zM428 212h1v1h-1zM1356 212h1v1h-1zM426 213h2v1h-2zM425 214h1v1h-1zM1546 214h1v1h-1zM423 215h2v1h-2zM1358 215h1v1h-1zM1545 215h1v1h-1zM421 216h2v1h-2zM1359 216h1v1h-1zM420 217h1v1h-1zM419 218h1v1h-1zM1543 218h1v1h-1zM418 219h1v1h-1zM1361 219h1v1h-1zM1542 219h1v1h-1zM417 220h1v1h-1zM1362 220h1v1h-1zM415 221h2v1h-2zM414 222h1v1h-1zM1540 222h1v1h-1zM413 223h1v1h-1zM1364 223h1v1h-1zM412 224h1v1h-1zM411 225h1v1h-1zM410 226h1v1h-1zM1366 226h1v1h-1zM409 227h1v1h-1zM1367 227h1v1h-1zM1537 227h1v1h-1zM407 228h2v1h-2zM406 229h1v1h-1zM405 230h1v1h-1zM1369 230h1v1h-1zM1535 230h1v1h-1zM404 231h1v1h-1zM1370 231h1v1h-1zM403 232h1v1h-1zM402 233h1v1h-1zM401 234h1v1h-1zM1372 234h1v1h-1zM4 235h13v1h-13zM400 235h1v1h-1zM1373 235h1v1h-1zM1532 235h1v1h-1zM17 236h8v1h-8zM399 236h1v1h-1zM1531 236h1v1h-1zM25 237h16v1h-16zM398 237h1v1h-1zM1530 237h1v1h-1zM41 238h5v1h-5zM397 238h1v1h-1zM1375 238h1v1h-1zM1529 238h1v1h-1zM46 239h3v1h-3zM396 239h1v1h-1zM1376 239h1v1h-1zM1527 239h2v1h-2zM49 240h2v1h-2zM395 240h1v1h-1zM1377 240h1v1h-1zM1526 240h1v1h-1zM51 241h2v1h-2zM393 241h2v1h-2zM1525 241h1v1h-1zM53 242h1v1h-1zM392 242h1v1h-1zM1524 242h1v1h-1zM54 243h1v1h-1zM391 243h1v1h-1zM1379 243h1v1h-1zM1523 243h1v1h-1zM55 244h2v1h-2zM389 244h2v1h-2zM1380 244h1v1h-1zM57 245h1v1h-1zM388 245h1v1h-1zM1381 245h1v1h-1zM58 246h1v1h-1zM387 246h1v1h-1zM1521 246h1v1h-1zM59 247h1v1h-1zM386 247h1v1h-1zM1520 247h1v1h-1zM60 248h1v1h-1zM385 248h1v1h-1zM1383 248h1v1h-1zM1519 248h1v1h-1zM61 249h1v1h-1zM383 249h2v1h-2zM1384 249h1v1h-1zM382 250h1v1h-1zM1385 250h1v1h-1zM381 251h1v1h-1zM1517 251h1v1h-1zM63 252h1v1h-1zM380 252h1v1h-1zM1516 252h1v1h-1zM64 253h1v1h-1zM379 253h1v1h-1zM1387 253h1v1h-1zM1515 253h1v1h-1zM65 254h1v1h-1zM378 254h1v1h-1zM1388 254h1v1h-1zM1514 254h1v1h-1zM377 255h1v1h-1zM1389 255h2v1h-2zM1513 255h1v1h-1zM376 256h1v1h-1zM1391 256h2v1h-2zM1511 256h2v1h-2zM67 257h1v1h-1zM375 257h1v1h-1zM1393 257h1v1h-1zM1510 257h1v1h-1zM68 258h1v1h-1zM374 258h1v1h-1zM1394 258h2v1h-2zM1509 258h1v1h-1zM69 259h1v1h-1zM373 259h1v1h-1zM1396 259h2v1h-2zM1508 259h1v1h-1zM70 260h1v1h-1zM372 260h1v1h-1zM1398 260h2v1h-2zM1506 260h2v1h-2zM71 261h1v1h-1zM371 261h1v1h-1zM1400 261h2v1h-2zM1504 261h2v1h-2zM72 262h1v1h-1zM1402 262h2v1h-2zM1502 262h2v1h-2zM73 263h1v1h-1zM1404 263h2v1h-2zM1500 263h2v1h-2zM74 264h1v1h-1zM369 264h1v1h-1zM1406 264h3v1h-3zM1499 264h1v1h-1zM75 265h1v1h-1zM368 265h1v1h-1zM1409 265h2v1h-2zM1498 265h1v1h-1zM76 266h1v1h-1zM367 266h1v1h-1zM1411 266h2v1h-2zM1497 266h1v1h-1zM77 267h1v1h-1zM1413 267h2v1h-2zM1495 267h2v1h-2zM78 268h1v1h-1zM1415 268h2v1h-2zM1494 268h1v1h-1zM79 269h1v1h-1zM365 269h1v1h-1zM1417 269h1v1h-1zM1493 269h1v1h-1zM80 270h1v1h-1zM364 270h1v1h-1zM1418 270h2v1h-2zM1492 270h1v1h-1zM81 271h1v1h-1zM1420 271h1v1h-1zM1491 271h1v1h-1zM82 272h1v1h-1zM1421 272h2v1h-2zM1489 272h2v1h-2zM83 273h1v1h-1zM362 273h1v1h-1zM1423 273h2v1h-2zM1488 273h1v1h-1zM84 274h1v1h-1zM361 274h1v1h-1zM1425 274h1v1h-1zM1487 274h1v1h-1zM85 275h1v1h-1zM1426 275h2v1h-2zM1485 275h2v1h-2zM86 276h1v1h-1zM1428 276h2v1h-2zM1484 276h1v1h-1zM87 277h1v1h-1zM359 277h1v1h-1zM1430 277h2v1h-2zM1483 277h1v1h-1zM88 278h1v1h-1zM358 278h1v1h-1zM1432 278h2v1h-2zM1481 278h2v1h-2zM89 279h1v1h-1zM1434 279h2v1h-2zM1480 279h1v1h-1zM90 280h1v1h-1zM1436 280h2v1h-2zM1479 280h1v1h-1zM91 281h1v1h-1zM356 281h1v1h-1zM1438 281h3v1h-3zM1477 281h2v1h-2zM92 282h1v1h-1zM355 282h1v1h-1zM1441 282h2v1h-2zM1476 282h1v1h-1zM93 283h2v1h-2zM354 283h1v1h-1zM1443 283h4v1h-4zM1474 283h2v1h-2zM95 284h2v1h-2zM353 284h1v1h-1zM1447 284h4v1h-4zM1473 284h1v1h-1zM97 285h1v1h-1zM1451 285h3v1h-3zM1471 285h2v1h-2zM98 286h2v1h-2zM1454 286h3v1h-3zM1469 286h2v1h-2zM100 287h2v1h-2zM351 287h1v1h-1zM1457 287h2v1h-2zM1465 287h4v1h-4zM102 288h2v1h-2zM350 288h1v1h-1zM1459 288h6v1h-6zM104 289h2v1h-2zM349 289h1v1h-1zM106 290h2v1h-2zM348 290h1v1h-1zM108 291h1v1h-1zM347 291h1v1h-1zM109 292h2v1h-2zM111 293h1v1h-1zM112 294h1v1h-1zM345 294h1v1h-1zM113 295h2v1h-2zM344 295h1v1h-1zM115 296h1v1h-1zM343 296h1v1h-1zM116 297h1v1h-1zM117 298h1v1h-1zM118 299h1v1h-1zM341 299h1v1h-1zM119 300h2v1h-2zM340 300h1v1h-1zM121 301h1v1h-1zM339 301h1v1h-1zM122 302h1v1h-1zM123 303h1v1h-1zM124 304h1v1h-1zM337 304h1v1h-1zM125 305h1v1h-1zM336 305h1v1h-1zM126 306h1v1h-1zM335 306h1v1h-1zM127 307h1v1h-1zM128 308h1v1h-1zM129 309h1v1h-1zM333 309h1v1h-1zM130 310h1v1h-1zM332 310h1v1h-1zM131 311h1v1h-1zM331 311h1v1h-1zM132 312h1v1h-1zM133 313h2v1h-2zM135 314h1v1h-1zM329 314h1v1h-1zM136 315h1v1h-1zM328 315h1v1h-1zM137 316h2v1h-2zM327 316h1v1h-1zM139 317h1v1h-1zM140 318h1v1h-1zM141 319h2v1h-2zM325 319h1v1h-1zM143 320h1v1h-1zM324 320h1v1h-1zM144 321h1v1h-1zM323 321h1v1h-1zM145 322h2v1h-2zM322 322h1v1h-1zM147 323h1v1h-1zM321 323h1v1h-1zM148 324h1v1h-1zM149 325h1v1h-1zM319 326h1v1h-1zM318 327h1v1h-1zM151 328h1v1h-1zM317 328h1v1h-1zM152 329h1v1h-1zM316 329h1v1h-1zM153 330h1v1h-1zM315 330h1v1h-1zM155 333h1v1h-1zM313 333h1v1h-1zM156 334h1v1h-1zM312 334h1v1h-1zM157 335h1v1h-1zM311 335h1v1h-1zM159 338h1v1h-1zM309 338h1v1h-1zM160 339h1v1h-1zM308 339h1v1h-1zM161 340h1v1h-1zM307 340h1v1h-1zM306 341h1v1h-1zM305 342h1v1h-1zM163 343h1v1h-1zM164 344h1v1h-1zM303 345h1v1h-1zM302 346h1v1h-1zM301 347h1v1h-1zM300 348h1v1h-1zM299 349h1v1h-1zM298 350h1v1h-1zM168 351h1v1h-1zM297 351h1v1h-1zM295 352h2v1h-2zM294 353h1v1h-1zM293 354h1v1h-1zM292 355h1v1h-1zM291 356h1v1h-1zM290 357h1v1h-1zM172 358h1v1h-1zM289 358h1v1h-1zM287 359h2v1h-2zM286 360h1v1h-1zM174 361h1v1h-1zM285 361h1v1h-1zM175 362h1v1h-1zM284 362h1v1h-1zM282 363h2v1h-2zM281 364h1v1h-1zM177 365h1v1h-1zM279 365h2v1h-2zM178 366h1v1h-1zM277 366h2v1h-2zM275 367h2v1h-2zM273 368h2v1h-2zM180 369h1v1h-1zM270 369h3v1h-3zM268 370h2v1h-2zM266 371h2v1h-2zM182 372h1v1h-1zM264 372h2v1h-2zM183 373h1v1h-1zM262 373h2v1h-2zM260 374h2v1h-2zM259 375h1v1h-1zM185 376h1v1h-1zM258 376h1v1h-1zM186 377h1v1h-1zM257 377h1v1h-1zM256 378h1v1h-1zM255 379h1v1h-1zM188 380h1v1h-1zM254 380h1v1h-1zM189 381h1v1h-1zM253 381h1v1h-1zM190 382h1v1h-1zM252 382h1v1h-1zM191 383h1v1h-1zM251 383h1v1h-1zM192 384h1v1h-1zM250 384h1v1h-1zM193 385h1v1h-1zM249 385h1v1h-1zM194 386h1v1h-1zM247 386h2v1h-2zM195 387h1v1h-1zM246 387h1v1h-1zM196 388h1v1h-1zM245 388h1v1h-1zM197 389h1v1h-1zM244 389h1v1h-1zM198 390h1v1h-1zM243 390h1v1h-1zM199 391h1v1h-1zM241 391h2v1h-2zM240 392h1v1h-1zM239 393h1v1h-1zM201 394h1v1h-1zM237 394h2v1h-2zM202 395h1v1h-1zM236 395h1v1h-1zM203 396h1v1h-1zM234 396h2v1h-2zM204 397h2v1h-2zM233 397h1v1h-1zM206 398h2v1h-2zM231 398h2v1h-2zM208 399h2v1h-2zM229 399h2v1h-2zM210 400h2v1h-2zM227 400h2v1h-2zM212 401h3v1h-3zM225 401h2v1h-2zM215 402h4v1h-4zM222 402h3v1h-3zM219 403h3v1h-3z"/>
</g>
<g shape-rendering="crispEdges">
<rect x="4" y="44" width="1676" height="2" fill="#ff0000"/>
<rect x="4" y="130" width="1677" height="2" fill="#32cd32"/>
<rect x="4" y="216" width="1677" height="2" fill="#4169e1"/>
<rect x="4" y="285" width="1677" height="2" fill="#4169e1"/>
</g>
<g shape-rendering="crispEdges">
<rect x="1680" y="30" width="2" height="1" fill="#000"/>
<rect x="1680" y="63" width="2" height="1" fill="#000"/>
<rect x="1680" y="96" width="2" height="1" fill="#000"/>
<rect x="1680" y="162" width="2" height="1" fill="#000"/>
<rect x="1680" y="195" width="2" height="1" fill="#000"/>
<rect x="1680" y="228" width="2" height="1" fill="#000"/>
<rect x="1680" y="261" width="2" height="1" fill="#000"/>
<rect x="1680" y="294" width="2" height="1" fill="#000"/>
<rect x="1680" y="327" width="2" height="1" fill="#000"/>
<rect x="1680" y="360" width="2" height="1" fill="#000"/>
<rect x="1680" y="393" width="2" height="1" fill="#000"/>
<rect x="1680" y="426" width="2" height="1" fill="#000"/>
<rect x="1680" y="459" width="2" height="1" fill="#000"/>
<rect x="1680" y="492" width="2" height="1" fill="#000"/>
<rect x="1680" y="525" width="2" height="1" fill="#000"/>
<rect x="1680" y="558" width="2" height="1" fill="#000"/>
<rect x="1680" y="129" width="2" height="1" fill="#000"/>
<rect x="1681" y="46" width="43" height="11" fill="#000"/>
<rect x="1681" y="39" width="43" height="11" fill="#ff0000"/>
<rect x="1681" y="125" width="43" height="11" fill="#32cd32"/>
<rect x="1681" y="211" width="43" height="11" fill="#4169e1"/>
<rect x="1681" y="280" width="43" height="11" fill="#4169e1"/>
</g>
<text transform="translate(1685 34) scale(1 1.0817)" font-size="9.3" fill="#000" stroke="#000" stroke-width="0.12" textLength="37.5" lengthAdjust="spacingAndGlyphs">3958.850</text>
<text transform="translate(1685 67) scale(1 1.0817)" font-size="9.3" fill="#000" stroke="#000" stroke-width="0.12" textLength="37.5" lengthAdjust="spacingAndGlyphs">3939.710</text>
<text transform="translate(1685 100) scale(1 1.0817)" font-size="9.3" fill="#000" stroke="#000" stroke-width="0.12" textLength="37.5" lengthAdjust="spacingAndGlyphs">3920.570</text>
<text transform="translate(1685 166) scale(1 1.0817)" font-size="9.3" fill="#000" stroke="#000" stroke-width="0.12" textLength="37.5" lengthAdjust="spacingAndGlyphs">3882.290</text>
<text transform="translate(1685 199) scale(1 1.0817)" font-size="9.3" fill="#000" stroke="#000" stroke-width="0.12" textLength="37.5" lengthAdjust="spacingAndGlyphs">3862.570</text>
<text transform="translate(1685 232) scale(1 1.0817)" font-size="9.3" fill="#000" stroke="#000" stroke-width="0.12" textLength="37.5" lengthAdjust="spacingAndGlyphs">3843.430</text>
<text transform="translate(1685 265) scale(1 1.0817)" font-size="9.3" fill="#000" stroke="#000" stroke-width="0.12" textLength="37.5" lengthAdjust="spacingAndGlyphs">3824.290</text>
<text transform="translate(1685 298) scale(1 1.0817)" font-size="9.3" fill="#000" stroke="#000" stroke-width="0.12" textLength="37.5" lengthAdjust="spacingAndGlyphs">3805.150</text>
<text transform="translate(1685 331) scale(1 1.0817)" font-size="9.3" fill="#000" stroke="#000" stroke-width="0.12" textLength="37.5" lengthAdjust="spacingAndGlyphs">3786.010</text>
<text transform="translate(1685 364) scale(1 1.0817)" font-size="9.3" fill="#000" stroke="#000" stroke-width="0.12" textLength="37.5" lengthAdjust="spacingAndGlyphs">3766.870</text>
<text transform="translate(1685 397) scale(1 1.0817)" font-size="9.3" fill="#000" stroke="#000" stroke-width="0.12" textLength="37.5" lengthAdjust="spacingAndGlyphs">3747.150</text>
<text transform="translate(1685 430) scale(1 1.0817)" font-size="9.3" fill="#000" stroke="#000" stroke-width="0.12" textLength="37.5" lengthAdjust="spacingAndGlyphs">3728.010</text>
<text transform="translate(1685 463) scale(1 1.0817)" font-size="9.3" fill="#000" stroke="#000" stroke-width="0.12" textLength="37.5" lengthAdjust="spacingAndGlyphs">3708.870</text>
<text transform="translate(1685 496) scale(1 1.0817)" font-size="9.3" fill="#000" stroke="#000" stroke-width="0.12" textLength="37.5" lengthAdjust="spacingAndGlyphs">3689.730</text>
<text transform="translate(1685 529) scale(1 1.0817)" font-size="9.3" fill="#000" stroke="#000" stroke-width="0.12" textLength="37.5" lengthAdjust="spacingAndGlyphs">3670.590</text>
<text transform="translate(1685 562) scale(1 1.0817)" font-size="9.3" fill="#000" stroke="#000" stroke-width="0.12" textLength="37.5" lengthAdjust="spacingAndGlyphs">3651.450</text>
<clipPath id="cb"><rect x="1681" y="50" width="43" height="7"/></clipPath>
<g clip-path="url(#cb)">
<text transform="translate(1685 55) scale(1 1.0817)" font-size="9.3" fill="#fff" stroke="#fff" stroke-width="0.12" textLength="37.5" lengthAdjust="spacingAndGlyphs">3947.000</text>
</g>
<text transform="translate(1685 48) scale(1 1.0817)" font-size="9.3" fill="#fff" stroke="#fff" stroke-width="0.12" textLength="37.5" lengthAdjust="spacingAndGlyphs">3950.000</text>
<text transform="translate(1685 134) scale(1 1.0817)" font-size="9.3" fill="#fff" stroke="#fff" stroke-width="0.12" textLength="37.5" lengthAdjust="spacingAndGlyphs">3900.000</text>
<text transform="translate(1685 220) scale(1 1.0817)" font-size="9.3" fill="#fff" stroke="#fff" stroke-width="0.12" textLength="37.5" lengthAdjust="spacingAndGlyphs">3850.000</text>
<text transform="translate(1685 289) scale(1 1.0817)" font-size="9.3" fill="#fff" stroke="#fff" stroke-width="0.12" textLength="37.5" lengthAdjust="spacingAndGlyphs">3810.000</text>
<path d="M7 10h7l-3.5 4z" fill="#000"/>
<text transform="translate(19 15) scale(1 1.0817)" font-size="9.3" fill="#000" stroke="#000" stroke-width="0.12" textLength="212" lengthAdjust="spacingAndGlyphs">SP500-,H4&#160;&#160;3945.750&#160;3947.000&#160;3945.500&#160;3947.000</text>
<text x="859" y="431" font-size="37" fill="#ed1c24" textLength="267" lengthAdjust="spacingAndGlyphs" style="font-family:'Liberation Sans','Noto Sans CJK SC',sans-serif">多空转折点3900</text>
<clipPath id="c2"><rect x="4" y="564" width="1675" height="136"/></clipPath>
<g clip-path="url(#c2)" shape-rendering="crispEdges">
<rect x="4" y="616" width="1" height="14" fill="#c0c0c0"/>
<rect x="12" y="616" width="1" height="14" fill="#c0c0c0"/>
<rect x="20" y="616" width="1" height="14" fill="#c0c0c0"/>
<rect x="28" y="616" width="1" height="14" fill="#c0c0c0"/>
<rect x="36" y="618" width="1" height="12" fill="#c0c0c0"/>
<rect x="44" y="624" width="1" height="6" fill="#c0c0c0"/>
<rect x="52" y="629" width="1" height="1" fill="#c0c0c0"/>
<rect x="60" y="629" width="1" height="17" fill="#c0c0c0"/>
<rect x="68" y="629" width="1" height="34" fill="#c0c0c0"/>
<rect x="76" y="629" width="1" height="44" fill="#c0c0c0"/>
<rect x="84" y="629" width="1" height="51" fill="#c0c0c0"/>
<rect x="92" y="629" width="1" height="56" fill="#c0c0c0"/>
<rect x="100" y="629" width="1" height="46" fill="#c0c0c0"/>
<rect x="108" y="629" width="1" height="38" fill="#c0c0c0"/>
<rect x="116" y="629" width="1" height="39" fill="#c0c0c0"/>
<rect x="124" y="629" width="1" height="43" fill="#c0c0c0"/>
<rect x="132" y="629" width="1" height="45" fill="#c0c0c0"/>
<rect x="140" y="629" width="1" height="44" fill="#c0c0c0"/>
<rect x="148" y="629" width="1" height="43" fill="#c0c0c0"/>
<rect x="156" y="629" width="1" height="50" fill="#c0c0c0"/>
<rect x="164" y="629" width="1" height="56" fill="#c0c0c0"/>
<rect x="172" y="629" width="1" height="64" fill="#c0c0c0"/>
<rect x="180" y="629" width="1" height="62" fill="#c0c0c0"/>
<rect x="188" y="629" width="1" height="58" fill="#c0c0c0"/>
<rect x="196" y="629" width="1" height="53" fill="#c0c0c0"/>
<rect x="204" y="629" width="1" height="50" fill="#c0c0c0"/>
<rect x="212" y="629" width="1" height="40" fill="#c0c0c0"/>
<rect x="220" y="629" width="1" height="32" fill="#c0c0c0"/>
<rect x="228" y="629" width="1" height="22" fill="#c0c0c0"/>
<rect x="236" y="629" width="1" height="14" fill="#c0c0c0"/>
<rect x="244" y="629" width="1" height="6" fill="#c0c0c0"/>
<rect x="252" y="626" width="1" height="4" fill="#c0c0c0"/>
<rect x="260" y="614" width="1" height="16" fill="#c0c0c0"/>
<rect x="268" y="608" width="1" height="22" fill="#c0c0c0"/>
<rect x="276" y="602" width="1" height="28" fill="#c0c0c0"/>
<rect x="284" y="596" width="1" height="34" fill="#c0c0c0"/>
<rect x="292" y="593" width="1" height="37" fill="#c0c0c0"/>
<rect x="300" y="593" width="1" height="37" fill="#c0c0c0"/>
<rect x="308" y="592" width="1" height="38" fill="#c0c0c0"/>
<rect x="316" y="591" width="1" height="39" fill="#c0c0c0"/>
<rect x="324" y="594" width="1" height="36" fill="#c0c0c0"/>
<rect x="332" y="596" width="1" height="34" fill="#c0c0c0"/>
<rect x="340" y="597" width="1" height="33" fill="#c0c0c0"/>
<rect x="348" y="592" width="1" height="38" fill="#c0c0c0"/>
<rect x="356" y="590" width="1" height="40" fill="#c0c0c0"/>
<rect x="364" y="587" width="1" height="43" fill="#c0c0c0"/>
<rect x="372" y="584" width="1" height="46" fill="#c0c0c0"/>
<rect x="380" y="581" width="1" height="49" fill="#c0c0c0"/>
<rect x="388" y="578" width="1" height="52" fill="#c0c0c0"/>
<rect x="396" y="576" width="1" height="54" fill="#c0c0c0"/>
<rect x="404" y="576" width="1" height="54" fill="#c0c0c0"/>
<rect x="412" y="576" width="1" height="54" fill="#c0c0c0"/>
<rect x="420" y="575" width="1" height="55" fill="#c0c0c0"/>
<rect x="428" y="574" width="1" height="56" fill="#c0c0c0"/>
<rect x="436" y="574" width="1" height="56" fill="#c0c0c0"/>
<rect x="444" y="575" width="1" height="55" fill="#c0c0c0"/>
<rect x="452" y="575" width="1" height="55" fill="#c0c0c0"/>
<rect x="460" y="576" width="1" height="54" fill="#c0c0c0"/>
<rect x="468" y="576" width="1" height="54" fill="#c0c0c0"/>
<rect x="476" y="576" width="1" height="54" fill="#c0c0c0"/>
<rect x="484" y="577" width="1" height="53" fill="#c0c0c0"/>
<rect x="492" y="579" width="1" height="51" fill="#c0c0c0"/>
<rect x="500" y="581" width="1" height="49" fill="#c0c0c0"/>
<rect x="508" y="582" width="1" height="48" fill="#c0c0c0"/>
<rect x="516" y="584" width="1" height="46" fill="#c0c0c0"/>
<rect x="524" y="584" width="1" height="46" fill="#c0c0c0"/>
<rect x="532" y="584" width="1" height="46" fill="#c0c0c0"/>
<rect x="540" y="586" width="1" height="44" fill="#c0c0c0"/>
<rect x="548" y="590" width="1" height="40" fill="#c0c0c0"/>
<rect x="556" y="592" width="1" height="38" fill="#c0c0c0"/>
<rect x="564" y="595" width="1" height="35" fill="#c0c0c0"/>
<rect x="572" y="598" width="1" height="32" fill="#c0c0c0"/>
<rect x="580" y="600" width="1" height="30" fill="#c0c0c0"/>
<rect x="588" y="601" width="1" height="29" fill="#c0c0c0"/>
<rect x="596" y="603" width="1" height="27" fill="#c0c0c0"/>
<rect x="604" y="606" width="1" height="24" fill="#c0c0c0"/>
<rect x="612" y="608" width="1" height="22" fill="#c0c0c0"/>
<rect x="620" y="610" width="1" height="20" fill="#c0c0c0"/>
<rect x="628" y="612" width="1" height="18" fill="#c0c0c0"/>
<rect x="636" y="614" width="1" height="16" fill="#c0c0c0"/>
<rect x="644" y="612" width="1" height="18" fill="#c0c0c0"/>
<rect x="652" y="612" width="1" height="18" fill="#c0c0c0"/>
<rect x="660" y="609" width="1" height="21" fill="#c0c0c0"/>
<rect x="668" y="607" width="1" height="23" fill="#c0c0c0"/>
<rect x="676" y="604" width="1" height="26" fill="#c0c0c0"/>
<rect x="684" y="601" width="1" height="29" fill="#c0c0c0"/>
<rect x="692" y="600" width="1" height="30" fill="#c0c0c0"/>
<rect x="700" y="598" width="1" height="32" fill="#c0c0c0"/>
<rect x="708" y="597" width="1" height="33" fill="#c0c0c0"/>
<rect x="716" y="597" width="1" height="33" fill="#c0c0c0"/>
<rect x="724" y="596" width="1" height="34" fill="#c0c0c0"/>
<rect x="732" y="597" width="1" height="33" fill="#c0c0c0"/>
<rect x="740" y="597" width="1" height="33" fill="#c0c0c0"/>
<rect x="748" y="601" width="1" height="29" fill="#c0c0c0"/>
<rect x="756" y="605" width="1" height="25" fill="#c0c0c0"/>
<rect x="764" y="610" width="1" height="20" fill="#c0c0c0"/>
<rect x="772" y="613" width="1" height="17" fill="#c0c0c0"/>
<rect x="780" y="616" width="1" height="14" fill="#c0c0c0"/>
<rect x="788" y="619" width="1" height="11" fill="#c0c0c0"/>
<rect x="796" y="623" width="1" height="7" fill="#c0c0c0"/>
<rect x="804" y="625" width="1" height="5" fill="#c0c0c0"/>
<rect x="812" y="625" width="1" height="5" fill="#c0c0c0"/>
<rect x="820" y="626" width="1" height="4" fill="#c0c0c0"/>
<rect x="828" y="629" width="1" height="1" fill="#c0c0c0"/>
<rect x="836" y="629" width="1" height="1" fill="#c0c0c0"/>
<rect x="844" y="629" width="1" height="8" fill="#c0c0c0"/>
<rect x="852" y="629" width="1" height="8" fill="#c0c0c0"/>
<rect x="860" y="629" width="1" height="10" fill="#c0c0c0"/>
<rect x="868" y="629" width="1" height="12" fill="#c0c0c0"/>
<rect x="876" y="629" width="1" height="13" fill="#c0c0c0"/>
<rect x="884" y="629" width="1" height="12" fill="#c0c0c0"/>
<rect x="892" y="629" width="1" height="9" fill="#c0c0c0"/>
<rect x="900" y="629" width="1" height="10" fill="#c0c0c0"/>
<rect x="908" y="629" width="1" height="12" fill="#c0c0c0"/>
<rect x="916" y="629" width="1" height="12" fill="#c0c0c0"/>
<rect x="924" y="629" width="1" height="12" fill="#c0c0c0"/>
<rect x="932" y="629" width="1" height="17" fill="#c0c0c0"/>
<rect x="940" y="629" width="1" height="21" fill="#c0c0c0"/>
<rect x="948" y="629" width="1" height="24" fill="#c0c0c0"/>
<rect x="956" y="629" width="1" height="23" fill="#c0c0c0"/>
<rect x="964" y="629" width="1" height="24" fill="#c0c0c0"/>
<rect x="972" y="629" width="1" height="24" fill="#c0c0c0"/>
<rect x="980" y="629" width="1" height="22" fill="#c0c0c0"/>
<rect x="988" y="629" width="1" height="26" fill="#c0c0c0"/>
<rect x="996" y="629" width="1" height="30" fill="#c0c0c0"/>
<rect x="1004" y="629" width="1" height="30" fill="#c0c0c0"/>
<rect x="1012" y="629" width="1" height="28" fill="#c0c0c0"/>
<rect x="1020" y="629" width="1" height="26" fill="#c0c0c0"/>
<rect x="1028" y="629" width="1" height="27" fill="#c0c0c0"/>
<rect x="1036" y="629" width="1" height="24" fill="#c0c0c0"/>
<rect x="1044" y="629" width="1" height="20" fill="#c0c0c0"/>
<rect x="1052" y="629" width="1" height="13" fill="#c0c0c0"/>
<rect x="1060" y="629" width="1" height="4" fill="#c0c0c0"/>
<rect x="1068" y="626" width="1" height="4" fill="#c0c0c0"/>
<rect x="1076" y="621" width="1" height="9" fill="#c0c0c0"/>
<rect x="1084" y="620" width="1" height="10" fill="#c0c0c0"/>
<rect x="1092" y="623" width="1" height="7" fill="#c0c0c0"/>
<rect x="1100" y="629" width="1" height="3" fill="#c0c0c0"/>
<rect x="1108" y="629" width="1" height="16" fill="#c0c0c0"/>
<rect x="1116" y="629" width="1" height="24" fill="#c0c0c0"/>
<rect x="1124" y="629" width="1" height="32" fill="#c0c0c0"/>
<rect x="1132" y="629" width="1" height="38" fill="#c0c0c0"/>
<rect x="1140" y="629" width="1" height="42" fill="#c0c0c0"/>
<rect x="1148" y="629" width="1" height="42" fill="#c0c0c0"/>
<rect x="1156" y="629" width="1" height="48" fill="#c0c0c0"/>
<rect x="1164" y="629" width="1" height="44" fill="#c0c0c0"/>
<rect x="1172" y="629" width="1" height="41" fill="#c0c0c0"/>
<rect x="1180" y="629" width="1" height="37" fill="#c0c0c0"/>
<rect x="1188" y="629" width="1" height="33" fill="#c0c0c0"/>
<rect x="1196" y="629" width="1" height="22" fill="#c0c0c0"/>
<rect x="1204" y="629" width="1" height="11" fill="#c0c0c0"/>
<rect x="1212" y="629" width="1" height="2" fill="#c0c0c0"/>
<rect x="1220" y="629" width="1" height="1" fill="#c0c0c0"/>
<rect x="1228" y="628" width="1" height="2" fill="#c0c0c0"/>
<rect x="1236" y="624" width="1" height="6" fill="#c0c0c0"/>
<rect x="1244" y="623" width="1" height="7" fill="#c0c0c0"/>
<rect x="1252" y="620" width="1" height="10" fill="#c0c0c0"/>
<rect x="1260" y="621" width="1" height="9" fill="#c0c0c0"/>
<rect x="1268" y="621" width="1" height="9" fill="#c0c0c0"/>
<rect x="1276" y="619" width="1" height="11" fill="#c0c0c0"/>
<rect x="1284" y="618" width="1" height="12" fill="#c0c0c0"/>
<rect x="1292" y="624" width="1" height="6" fill="#c0c0c0"/>
<rect x="1300" y="629" width="1" height="1" fill="#c0c0c0"/>
<rect x="1308" y="629" width="1" height="14" fill="#c0c0c0"/>
<rect x="1316" y="629" width="1" height="26" fill="#c0c0c0"/>
<rect x="1324" y="629" width="1" height="31" fill="#c0c0c0"/>
<rect x="1332" y="629" width="1" height="36" fill="#c0c0c0"/>
<rect x="1340" y="629" width="1" height="36" fill="#c0c0c0"/>
<rect x="1348" y="629" width="1" height="44" fill="#c0c0c0"/>
<rect x="1356" y="629" width="1" height="53" fill="#c0c0c0"/>
<rect x="1364" y="629" width="1" height="58" fill="#c0c0c0"/>
<rect x="1372" y="629" width="1" height="62" fill="#c0c0c0"/>
<rect x="1380" y="629" width="1" height="63" fill="#c0c0c0"/>
<rect x="1388" y="629" width="1" height="64" fill="#c0c0c0"/>
<rect x="1396" y="629" width="1" height="52" fill="#c0c0c0"/>
<rect x="1404" y="629" width="1" height="41" fill="#c0c0c0"/>
<rect x="1412" y="629" width="1" height="29" fill="#c0c0c0"/>
<rect x="1420" y="629" width="1" height="24" fill="#c0c0c0"/>
<rect x="1428" y="629" width="1" height="22" fill="#c0c0c0"/>
<rect x="1436" y="629" width="1" height="19" fill="#c0c0c0"/>
<rect x="1444" y="629" width="1" height="8" fill="#c0c0c0"/>
<rect x="1452" y="629" width="1" height="2" fill="#c0c0c0"/>
<rect x="1468" y="626" width="1" height="4" fill="#c0c0c0"/>
<rect x="1476" y="623" width="1" height="7" fill="#c0c0c0"/>
<rect x="1484" y="619" width="1" height="11" fill="#c0c0c0"/>
<rect x="1492" y="612" width="1" height="18" fill="#c0c0c0"/>
<rect x="1500" y="605" width="1" height="25" fill="#c0c0c0"/>
<rect x="1508" y="603" width="1" height="27" fill="#c0c0c0"/>
<rect x="1516" y="603" width="1" height="27" fill="#c0c0c0"/>
<rect x="1524" y="604" width="1" height="26" fill="#c0c0c0"/>
<rect x="1532" y="603" width="1" height="27" fill="#c0c0c0"/>
<rect x="1540" y="600" width="1" height="30" fill="#c0c0c0"/>
<rect x="1548" y="594" width="1" height="36" fill="#c0c0c0"/>
<rect x="1556" y="592" width="1" height="38" fill="#c0c0c0"/>
<rect x="1564" y="589" width="1" height="41" fill="#c0c0c0"/>
<rect x="1572" y="585" width="1" height="45" fill="#c0c0c0"/>
<rect x="1580" y="582" width="1" height="48" fill="#c0c0c0"/>
<rect x="1588" y="577" width="1" height="53" fill="#c0c0c0"/>
<rect x="1596" y="574" width="1" height="56" fill="#c0c0c0"/>
<rect x="1604" y="572" width="1" height="58" fill="#c0c0c0"/>
<rect x="1612" y="572" width="1" height="58" fill="#c0c0c0"/>
<rect x="1620" y="576" width="1" height="54" fill="#c0c0c0"/>
<rect x="1628" y="580" width="1" height="50" fill="#c0c0c0"/>
<rect x="1636" y="583" width="1" height="47" fill="#c0c0c0"/>
<rect x="1644" y="583" width="1" height="47" fill="#c0c0c0"/>
<rect x="1652" y="583" width="1" height="47" fill="#c0c0c0"/>
<rect x="1660" y="582" width="1" height="48" fill="#c0c0c0"/>
<path fill="#ff0000" d="M256 652h1v2h-1zM449 574h2v1h-2zM454 574h3v1h-3zM460 574h3v1h-3zM466 574h3v1h-3zM472 574h3v1h-3zM478 574h3v1h-3zM484 574h3v1h-3zM490 574h3v1h-3zM496 574h1v1h-1zM442 575h3v1h-3zM448 575h1v1h-1zM497 575h2v1h-2zM502 575h1v1h-1zM436 576h3v1h-3zM503 576h2v1h-2zM431 577h2v1h-2zM508 577h3v1h-3zM514 577h3v1h-3zM520 577h1v1h-1zM1630 577h3v1h-3zM1636 577h3v1h-3zM1642 577h3v1h-3zM1648 577h3v1h-3zM1654 577h3v1h-3zM425 578h2v1h-2zM430 578h1v1h-1zM521 578h2v1h-2zM526 578h1v1h-1zM1624 578h3v1h-3zM419 579h2v1h-2zM424 579h1v1h-1zM527 579h2v1h-2zM1619 579h2v1h-2zM418 580h1v1h-1zM532 580h3v1h-3zM1618 580h1v1h-1zM412 581h3v1h-3zM538 581h3v1h-3zM544 581h1v1h-1zM1612 581h3v1h-3zM407 582h2v1h-2zM545 582h2v1h-2zM550 582h1v1h-1zM406 583h1v1h-1zM551 583h2v1h-2zM1608 583h1v1h-1zM400 584h3v1h-3zM556 584h3v1h-3zM1606 584h2v1h-2zM395 585h2v1h-2zM562 585h3v1h-3zM394 586h1v1h-1zM568 586h3v1h-3zM1601 586h2v1h-2zM388 587h3v1h-3zM574 587h1v1h-1zM1600 587h1v1h-1zM383 588h2v1h-2zM575 588h2v1h-2zM1595 588h2v1h-2zM377 589h2v1h-2zM382 589h1v1h-1zM580 589h3v1h-3zM1594 589h1v1h-1zM370 590h3v1h-3zM376 590h1v1h-1zM586 590h1v1h-1zM1590 590h1v1h-1zM364 591h3v1h-3zM587 591h2v1h-2zM1588 591h2v1h-2zM353 592h2v1h-2zM358 592h3v1h-3zM592 592h3v1h-3zM346 593h3v1h-3zM352 593h1v1h-1zM598 593h1v1h-1zM1582 593h3v1h-3zM340 594h3v1h-3zM599 594h2v1h-2zM334 595h3v1h-3zM604 595h3v1h-3zM1576 595h3v1h-3zM328 596h3v1h-3zM610 596h1v1h-1zM1571 596h2v1h-2zM324 597h1v1h-1zM611 597h2v1h-2zM748 597h3v1h-3zM754 597h3v1h-3zM760 597h1v1h-1zM1570 597h1v1h-1zM322 598h2v1h-2zM616 598h1v1h-1zM737 598h2v1h-2zM742 598h3v1h-3zM761 598h2v1h-2zM766 598h1v1h-1zM1564 598h3v1h-3zM617 599h2v1h-2zM730 599h3v1h-3zM736 599h1v1h-1zM767 599h2v1h-2zM318 600h1v1h-1zM724 600h3v1h-3zM772 600h3v1h-3zM1558 600h3v1h-3zM316 601h2v1h-2zM622 601h3v1h-3zM719 601h2v1h-2zM778 601h1v1h-1zM718 602h1v1h-1zM779 602h2v1h-2zM1553 602h2v1h-2zM628 603h3v1h-3zM712 603h3v1h-3zM784 603h1v1h-1zM1552 603h1v1h-1zM311 604h2v1h-2zM634 604h3v1h-3zM707 604h2v1h-2zM785 604h2v1h-2zM1547 604h2v1h-2zM310 605h1v1h-1zM640 605h3v1h-3zM706 605h1v1h-1zM790 605h1v1h-1zM1546 605h1v1h-1zM646 606h1v1h-1zM700 606h3v1h-3zM791 606h2v1h-2zM1542 606h1v1h-1zM306 607h1v1h-1zM647 607h2v1h-2zM689 607h2v1h-2zM694 607h3v1h-3zM796 607h2v1h-2zM1540 607h2v1h-2zM305 608h1v1h-1zM652 608h3v1h-3zM682 608h3v1h-3zM688 608h1v1h-1zM798 608h1v1h-1zM304 609h1v1h-1zM658 609h3v1h-3zM664 609h3v1h-3zM670 609h3v1h-3zM676 609h3v1h-3zM802 609h1v1h-1zM1534 609h3v1h-3zM803 610h2v1h-2zM300 611h1v1h-1zM808 611h1v1h-1zM1530 611h1v1h-1zM4 612h3v1h-3zM10 612h3v1h-3zM16 612h1v1h-1zM299 612h1v1h-1zM809 612h2v1h-2zM1528 612h2v1h-2zM17 613h2v1h-2zM22 613h3v1h-3zM28 613h3v1h-3zM298 613h1v1h-1zM34 614h3v1h-3zM814 614h3v1h-3zM1523 614h2v1h-2zM40 615h3v1h-3zM1522 615h1v1h-1zM46 616h1v1h-1zM294 616h1v1h-1zM820 616h2v1h-2zM1518 616h1v1h-1zM47 617h2v1h-2zM293 617h1v1h-1zM822 617h1v1h-1zM1516 617h2v1h-2zM52 618h2v1h-2zM292 618h1v1h-1zM826 618h1v1h-1zM54 619h1v1h-1zM827 619h2v1h-2zM1512 619h1v1h-1zM58 620h1v1h-1zM832 620h1v1h-1zM1510 620h2v1h-2zM59 621h2v1h-2zM833 621h2v1h-2zM1282 621h3v1h-3zM1288 621h3v1h-3zM1294 621h3v1h-3zM1300 621h3v1h-3zM288 622h1v1h-1zM1276 622h3v1h-3zM1306 622h1v1h-1zM1506 622h1v1h-1zM64 623h1v1h-1zM287 623h1v1h-1zM838 623h3v1h-3zM1307 623h2v1h-2zM1505 623h1v1h-1zM65 624h1v1h-1zM286 624h1v1h-1zM1270 624h3v1h-3zM1504 624h1v1h-1zM66 625h1v1h-1zM844 625h3v1h-3zM1312 625h2v1h-2zM850 626h1v1h-1zM1266 626h1v1h-1zM1314 626h1v1h-1zM1500 626h1v1h-1zM70 627h1v1h-1zM851 627h2v1h-2zM1264 627h2v1h-2zM1498 627h2v1h-2zM71 628h1v1h-1zM282 628h1v1h-1zM856 628h3v1h-3zM1318 628h3v1h-3zM72 629h1v1h-1zM281 629h1v1h-1zM862 629h1v1h-1zM1260 629h1v1h-1zM280 630h1v1h-1zM863 630h2v1h-2zM1258 630h2v1h-2zM1324 630h1v1h-1zM1493 630h2v1h-2zM868 631h3v1h-3zM1325 631h2v1h-2zM1492 631h1v1h-1zM76 632h1v1h-1zM874 632h1v1h-1zM1108 632h3v1h-3zM1114 632h3v1h-3zM1120 632h1v1h-1zM77 633h1v1h-1zM875 633h2v1h-2zM880 633h1v1h-1zM1102 633h3v1h-3zM1121 633h2v1h-2zM1253 633h2v1h-2zM78 634h1v1h-1zM276 634h1v1h-1zM881 634h2v1h-2zM886 634h1v1h-1zM1096 634h3v1h-3zM1126 634h2v1h-2zM1252 634h1v1h-1zM1330 634h2v1h-2zM1487 634h2v1h-2zM275 635h1v1h-1zM887 635h2v1h-2zM1092 635h1v1h-1zM1128 635h1v1h-1zM1332 635h1v1h-1zM1486 635h1v1h-1zM274 636h1v1h-1zM892 636h3v1h-3zM1090 636h2v1h-2zM82 637h1v1h-1zM898 637h1v1h-1zM1132 637h1v1h-1zM1248 637h1v1h-1zM1336 637h1v1h-1zM1482 637h1v1h-1zM83 638h1v1h-1zM899 638h2v1h-2zM904 638h3v1h-3zM910 638h3v1h-3zM1086 638h1v1h-1zM1133 638h2v1h-2zM1247 638h1v1h-1zM1337 638h1v1h-1zM1481 638h1v1h-1zM84 639h1v1h-1zM270 639h1v1h-1zM916 639h3v1h-3zM922 639h3v1h-3zM928 639h1v1h-1zM1084 639h2v1h-2zM1246 639h1v1h-1zM1338 639h1v1h-1zM1480 639h1v1h-1zM269 640h1v1h-1zM929 640h2v1h-2zM934 640h3v1h-3zM268 641h1v1h-1zM940 641h3v1h-3zM1080 641h1v1h-1zM1138 641h2v1h-2zM1242 641h1v1h-1zM1342 641h1v1h-1zM1476 641h1v1h-1zM946 642h3v1h-3zM1078 642h2v1h-2zM1140 642h1v1h-1zM1241 642h1v1h-1zM1343 642h1v1h-1zM1474 642h2v1h-2zM88 643h1v1h-1zM952 643h3v1h-3zM1240 643h1v1h-1zM1344 643h1v1h-1zM89 644h1v1h-1zM958 644h1v1h-1zM1074 644h1v1h-1zM90 645h1v1h-1zM263 645h2v1h-2zM959 645h2v1h-2zM1072 645h2v1h-2zM1144 645h1v1h-1zM1236 645h1v1h-1zM1469 645h2v1h-2zM262 646h1v1h-1zM964 646h3v1h-3zM1145 646h2v1h-2zM1234 646h2v1h-2zM1348 646h1v1h-1zM1468 646h1v1h-1zM970 647h3v1h-3zM976 647h1v1h-1zM1067 647h2v1h-2zM1349 647h2v1h-2zM977 648h2v1h-2zM982 648h3v1h-3zM1066 648h1v1h-1zM94 649h1v1h-1zM988 649h3v1h-3zM1062 649h1v1h-1zM1150 649h1v1h-1zM1229 649h2v1h-2zM1464 649h1v1h-1zM95 650h1v1h-1zM258 650h1v1h-1zM994 650h1v1h-1zM1060 650h2v1h-2zM1151 650h1v1h-1zM1228 650h1v1h-1zM1354 650h1v1h-1zM1463 650h1v1h-1zM96 651h1v1h-1zM257 651h1v1h-1zM995 651h2v1h-2zM1152 651h1v1h-1zM1355 651h1v1h-1zM1462 651h1v1h-1zM1000 652h3v1h-3zM1054 652h3v1h-3zM1356 652h1v1h-1zM1006 653h3v1h-3zM1223 653h2v1h-2zM1012 654h3v1h-3zM1018 654h3v1h-3zM1024 654h1v1h-1zM1048 654h3v1h-3zM1156 654h1v1h-1zM1222 654h1v1h-1zM1457 654h2v1h-2zM100 655h2v1h-2zM1025 655h2v1h-2zM1030 655h3v1h-3zM1036 655h3v1h-3zM1042 655h3v1h-3zM1157 655h2v1h-2zM1360 655h1v1h-1zM1456 655h1v1h-1zM102 656h1v1h-1zM1218 656h1v1h-1zM1361 656h1v1h-1zM252 657h1v1h-1zM1217 657h1v1h-1zM1362 657h1v1h-1zM106 658h2v1h-2zM251 658h1v1h-1zM1162 658h1v1h-1zM1216 658h1v1h-1zM1452 658h1v1h-1zM108 659h1v1h-1zM250 659h1v1h-1zM1163 659h1v1h-1zM1451 659h1v1h-1zM1164 660h1v1h-1zM1212 660h1v1h-1zM1450 660h1v1h-1zM112 661h1v1h-1zM1210 661h2v1h-2zM1366 661h1v1h-1zM113 662h1v1h-1zM1168 662h2v1h-2zM1367 662h2v1h-2zM114 663h1v1h-1zM1170 663h1v1h-1zM1206 663h1v1h-1zM1446 663h1v1h-1zM246 664h1v1h-1zM1204 664h2v1h-2zM1445 664h1v1h-1zM118 665h2v1h-2zM245 665h1v1h-1zM1174 665h3v1h-3zM1199 665h2v1h-2zM1444 665h1v1h-1zM120 666h1v1h-1zM244 666h1v1h-1zM1193 666h2v1h-2zM1198 666h1v1h-1zM1372 666h1v1h-1zM1180 667h3v1h-3zM1186 667h3v1h-3zM1192 667h1v1h-1zM1373 667h2v1h-2zM124 668h2v1h-2zM1439 668h2v1h-2zM126 669h1v1h-1zM240 669h1v1h-1zM1438 669h1v1h-1zM130 670h1v1h-1zM239 670h1v1h-1zM1378 670h1v1h-1zM131 671h2v1h-2zM238 671h1v1h-1zM1379 671h1v1h-1zM1434 671h1v1h-1zM136 672h3v1h-3zM1380 672h1v1h-1zM1432 672h2v1h-2zM142 673h3v1h-3zM148 673h3v1h-3zM154 673h3v1h-3zM160 673h3v1h-3zM166 673h1v1h-1zM234 673h1v1h-1zM167 674h2v1h-2zM232 674h2v1h-2zM1384 674h2v1h-2zM1428 674h1v1h-1zM172 675h2v1h-2zM1386 675h1v1h-1zM1426 675h2v1h-2zM174 676h1v1h-1zM228 676h1v1h-1zM178 677h1v1h-1zM226 677h2v1h-2zM1390 677h3v1h-3zM1422 677h1v1h-1zM179 678h2v1h-2zM1420 678h2v1h-2zM184 679h3v1h-3zM222 679h1v1h-1zM1396 679h3v1h-3zM1415 679h2v1h-2zM190 680h3v1h-3zM209 680h2v1h-2zM214 680h3v1h-3zM220 680h2v1h-2zM1402 680h3v1h-3zM1408 680h3v1h-3zM1414 680h1v1h-1zM196 681h3v1h-3zM202 681h3v1h-3zM208 681h1v1h-1z"/>
</g>
<text transform="translate(8 576) scale(1 1.0817)" font-size="9.3" fill="#000" stroke="#000" stroke-width="0.12" textLength="137" lengthAdjust="spacingAndGlyphs">MACD(12,26,9)&#160;21.7409&#160;23.6117</text>
<g shape-rendering="crispEdges">
<rect x="1680" y="564" width="2" height="1" fill="#000"/>
<rect x="1680" y="629" width="2" height="1" fill="#000"/>
<rect x="1680" y="698" width="2" height="1" fill="#000"/>
</g>
<text transform="translate(1683 575) scale(1 1.0817)" font-size="9.3" fill="#000" stroke="#000" stroke-width="0.12" textLength="32.5" lengthAdjust="spacingAndGlyphs">29.3605</text>
<text transform="translate(1683 633) scale(1 1.0817)" font-size="9.3" fill="#000" stroke="#000" stroke-width="0.12" textLength="18.5" lengthAdjust="spacingAndGlyphs">0.00</text>
<text transform="translate(1683 697) scale(1 1.0817)" font-size="9.3" fill="#000" stroke="#000" stroke-width="0.12" textLength="36" lengthAdjust="spacingAndGlyphs">-32.1096</text>
<g shape-rendering="crispEdges">
<path fill="#c0c0c0" d="M5 738h3v1h-3zM11 738h3v1h-3zM17 738h3v1h-3zM23 738h3v1h-3zM29 738h3v1h-3zM35 738h3v1h-3zM41 738h3v1h-3zM47 738h3v1h-3zM53 738h3v1h-3zM59 738h3v1h-3zM65 738h3v1h-3zM71 738h3v1h-3zM77 738h3v1h-3zM83 738h3v1h-3zM89 738h3v1h-3zM95 738h3v1h-3zM101 738h3v1h-3zM107 738h3v1h-3zM113 738h3v1h-3zM119 738h3v1h-3zM125 738h3v1h-3zM131 738h3v1h-3zM137 738h3v1h-3zM143 738h3v1h-3zM149 738h3v1h-3zM155 738h3v1h-3zM161 738h3v1h-3zM167 738h3v1h-3zM173 738h3v1h-3zM179 738h3v1h-3zM185 738h3v1h-3zM191 738h3v1h-3zM197 738h3v1h-3zM203 738h3v1h-3zM209 738h3v1h-3zM215 738h3v1h-3zM221 738h3v1h-3zM227 738h3v1h-3zM233 738h3v1h-3zM239 738h3v1h-3zM245 738h3v1h-3zM251 738h3v1h-3zM257 738h3v1h-3zM263 738h3v1h-3zM269 738h3v1h-3zM275 738h3v1h-3zM281 738h3v1h-3zM287 738h3v1h-3zM293 738h3v1h-3zM299 738h3v1h-3zM305 738h3v1h-3zM311 738h3v1h-3zM317 738h3v1h-3zM323 738h3v1h-3zM329 738h3v1h-3zM335 738h3v1h-3zM341 738h3v1h-3zM347 738h3v1h-3zM353 738h3v1h-3zM359 738h3v1h-3zM365 738h3v1h-3zM371 738h3v1h-3zM377 738h3v1h-3zM383 738h3v1h-3zM389 738h3v1h-3zM395 738h3v1h-3zM401 738h3v1h-3zM407 738h3v1h-3zM413 738h3v1h-3zM419 738h3v1h-3zM425 738h3v1h-3zM431 738h3v1h-3zM437 738h3v1h-3zM443 738h3v1h-3zM449 738h3v1h-3zM455 738h3v1h-3zM461 738h3v1h-3zM467 738h3v1h-3zM473 738h3v1h-3zM479 738h3v1h-3zM485 738h3v1h-3zM491 738h3v1h-3zM497 738h3v1h-3zM503 738h3v1h-3zM509 738h3v1h-3zM515 738h3v1h-3zM521 738h3v1h-3zM527 738h3v1h-3zM533 738h3v1h-3zM539 738h3v1h-3zM545 738h3v1h-3zM551 738h3v1h-3zM557 738h3v1h-3zM563 738h3v1h-3zM569 738h3v1h-3zM575 738h3v1h-3zM581 738h3v1h-3zM587 738h3v1h-3zM593 738h3v1h-3zM599 738h3v1h-3zM605 738h3v1h-3zM611 738h3v1h-3zM617 738h3v1h-3zM623 738h3v1h-3zM629 738h3v1h-3zM635 738h3v1h-3zM641 738h3v1h-3zM647 738h3v1h-3zM653 738h3v1h-3zM659 738h3v1h-3zM665 738h3v1h-3zM671 738h3v1h-3zM677 738h3v1h-3zM683 738h3v1h-3zM689 738h3v1h-3zM695 738h3v1h-3zM701 738h3v1h-3zM707 738h3v1h-3zM713 738h3v1h-3zM719 738h3v1h-3zM725 738h3v1h-3zM731 738h3v1h-3zM737 738h3v1h-3zM743 738h3v1h-3zM749 738h3v1h-3zM755 738h3v1h-3zM761 738h3v1h-3zM767 738h3v1h-3zM773 738h3v1h-3zM779 738h3v1h-3zM785 738h3v1h-3zM791 738h3v1h-3zM797 738h3v1h-3zM803 738h3v1h-3zM809 738h3v1h-3zM815 738h3v1h-3zM821 738h3v1h-3zM827 738h3v1h-3zM833 738h3v1h-3zM839 738h3v1h-3zM845 738h3v1h-3zM851 738h3v1h-3zM857 738h3v1h-3zM863 738h3v1h-3zM869 738h3v1h-3zM875 738h3v1h-3zM881 738h3v1h-3zM887 738h3v1h-3zM893 738h3v1h-3zM899 738h3v1h-3zM905 738h3v1h-3zM911 738h3v1h-3zM917 738h3v1h-3zM923 738h3v1h-3zM929 738h3v1h-3zM935 738h3v1h-3zM941 738h3v1h-3zM947 738h3v1h-3zM953 738h3v1h-3zM959 738h3v1h-3zM965 738h3v1h-3zM971 738h3v1h-3zM977 738h3v1h-3zM983 738h3v1h-3zM989 738h3v1h-3zM995 738h3v1h-3zM1001 738h3v1h-3zM1007 738h3v1h-3zM1013 738h3v1h-3zM1019 738h3v1h-3zM1025 738h3v1h-3zM1031 738h3v1h-3zM1037 738h3v1h-3zM1043 738h3v1h-3zM1049 738h3v1h-3zM1055 738h3v1h-3zM1061 738h3v1h-3zM1067 738h3v1h-3zM1073 738h3v1h-3zM1079 738h3v1h-3zM1085 738h3v1h-3zM1091 738h3v1h-3zM1097 738h3v1h-3zM1103 738h3v1h-3zM1109 738h3v1h-3zM1115 738h3v1h-3zM1121 738h3v1h-3zM1127 738h3v1h-3zM1133 738h3v1h-3zM1139 738h3v1h-3zM1145 738h3v1h-3zM1151 738h3v1h-3zM1157 738h3v1h-3zM1163 738h3v1h-3zM1169 738h3v1h-3zM1175 738h3v1h-3zM1181 738h3v1h-3zM1187 738h3v1h-3zM1193 738h3v1h-3zM1199 738h3v1h-3zM1205 738h3v1h-3zM1211 738h3v1h-3zM1217 738h3v1h-3zM1223 738h3v1h-3zM1229 738h3v1h-3zM1235 738h3v1h-3zM1241 738h3v1h-3zM1247 738h3v1h-3zM1253 738h3v1h-3zM1259 738h3v1h-3zM1265 738h3v1h-3zM1271 738h3v1h-3zM1277 738h3v1h-3zM1283 738h3v1h-3zM1289 738h3v1h-3zM1295 738h3v1h-3zM1301 738h3v1h-3zM1307 738h3v1h-3zM1313 738h3v1h-3zM1319 738h3v1h-3zM1325 738h3v1h-3zM1331 738h3v1h-3zM1337 738h3v1h-3zM1343 738h3v1h-3zM1349 738h3v1h-3zM1355 738h3v1h-3zM1361 738h3v1h-3zM1367 738h3v1h-3zM1373 738h3v1h-3zM1379 738h3v1h-3zM1385 738h3v1h-3zM1391 738h3v1h-3zM1397 738h3v1h-3zM1403 738h3v1h-3zM1409 738h3v1h-3zM1415 738h3v1h-3zM1421 738h3v1h-3zM1427 738h3v1h-3zM1433 738h3v1h-3zM1439 738h3v1h-3zM1445 738h3v1h-3zM1451 738h3v1h-3zM1457 738h3v1h-3zM1463 738h3v1h-3zM1469 738h3v1h-3zM1475 738h3v1h-3zM1481 738h3v1h-3zM1487 738h3v1h-3zM1493 738h3v1h-3zM1499 738h3v1h-3zM1505 738h3v1h-3zM1511 738h3v1h-3zM1517 738h3v1h-3zM1523 738h3v1h-3zM1529 738h3v1h-3zM1535 738h3v1h-3zM1541 738h3v1h-3zM1547 738h3v1h-3zM1553 738h3v1h-3zM1559 738h3v1h-3zM1565 738h3v1h-3zM1571 738h3v1h-3zM1577 738h3v1h-3zM1583 738h3v1h-3zM1589 738h3v1h-3zM1595 738h3v1h-3zM1601 738h3v1h-3zM1607 738h3v1h-3zM1613 738h3v1h-3zM1619 738h3v1h-3zM1625 738h3v1h-3zM1631 738h3v1h-3zM1637 738h3v1h-3zM1643 738h3v1h-3zM1649 738h3v1h-3zM1655 738h3v1h-3zM1661 738h3v1h-3zM1667 738h3v1h-3zM1673 738h3v1h-3z"/>
<path fill="#c0c0c0" d="M5 784h3v1h-3zM11 784h3v1h-3zM17 784h3v1h-3zM23 784h3v1h-3zM29 784h3v1h-3zM35 784h3v1h-3zM41 784h3v1h-3zM47 784h3v1h-3zM53 784h3v1h-3zM59 784h3v1h-3zM65 784h3v1h-3zM71 784h3v1h-3zM77 784h3v1h-3zM83 784h3v1h-3zM89 784h3v1h-3zM95 784h3v1h-3zM101 784h3v1h-3zM107 784h3v1h-3zM113 784h3v1h-3zM119 784h3v1h-3zM125 784h3v1h-3zM131 784h3v1h-3zM137 784h3v1h-3zM143 784h3v1h-3zM149 784h3v1h-3zM155 784h3v1h-3zM161 784h3v1h-3zM167 784h3v1h-3zM173 784h3v1h-3zM179 784h3v1h-3zM185 784h3v1h-3zM191 784h3v1h-3zM197 784h3v1h-3zM203 784h3v1h-3zM209 784h3v1h-3zM215 784h3v1h-3zM221 784h3v1h-3zM227 784h3v1h-3zM233 784h3v1h-3zM239 784h3v1h-3zM245 784h3v1h-3zM251 784h3v1h-3zM257 784h3v1h-3zM263 784h3v1h-3zM269 784h3v1h-3zM275 784h3v1h-3zM281 784h3v1h-3zM287 784h3v1h-3zM293 784h3v1h-3zM299 784h3v1h-3zM305 784h3v1h-3zM311 784h3v1h-3zM317 784h3v1h-3zM323 784h3v1h-3zM329 784h3v1h-3zM335 784h3v1h-3zM341 784h3v1h-3zM347 784h3v1h-3zM353 784h3v1h-3zM359 784h3v1h-3zM365 784h3v1h-3zM371 784h3v1h-3zM377 784h3v1h-3zM383 784h3v1h-3zM389 784h3v1h-3zM395 784h3v1h-3zM401 784h3v1h-3zM407 784h3v1h-3zM413 784h3v1h-3zM419 784h3v1h-3zM425 784h3v1h-3zM431 784h3v1h-3zM437 784h3v1h-3zM443 784h3v1h-3zM449 784h3v1h-3zM455 784h3v1h-3zM461 784h3v1h-3zM467 784h3v1h-3zM473 784h3v1h-3zM479 784h3v1h-3zM485 784h3v1h-3zM491 784h3v1h-3zM497 784h3v1h-3zM503 784h3v1h-3zM509 784h3v1h-3zM515 784h3v1h-3zM521 784h3v1h-3zM527 784h3v1h-3zM533 784h3v1h-3zM539 784h3v1h-3zM545 784h3v1h-3zM551 784h3v1h-3zM557 784h3v1h-3zM563 784h3v1h-3zM569 784h3v1h-3zM575 784h3v1h-3zM581 784h3v1h-3zM587 784h3v1h-3zM593 784h3v1h-3zM599 784h3v1h-3zM605 784h3v1h-3zM611 784h3v1h-3zM617 784h3v1h-3zM623 784h3v1h-3zM629 784h3v1h-3zM635 784h3v1h-3zM641 784h3v1h-3zM647 784h3v1h-3zM653 784h3v1h-3zM659 784h3v1h-3zM665 784h3v1h-3zM671 784h3v1h-3zM677 784h3v1h-3zM683 784h3v1h-3zM689 784h3v1h-3zM695 784h3v1h-3zM701 784h3v1h-3zM707 784h3v1h-3zM713 784h3v1h-3zM719 784h3v1h-3zM725 784h3v1h-3zM731 784h3v1h-3zM737 784h3v1h-3zM743 784h3v1h-3zM749 784h3v1h-3zM755 784h3v1h-3zM761 784h3v1h-3zM767 784h3v1h-3zM773 784h3v1h-3zM779 784h3v1h-3zM785 784h3v1h-3zM791 784h3v1h-3zM797 784h3v1h-3zM803 784h3v1h-3zM809 784h3v1h-3zM815 784h3v1h-3zM821 784h3v1h-3zM827 784h3v1h-3zM833 784h3v1h-3zM839 784h3v1h-3zM845 784h3v1h-3zM851 784h3v1h-3zM857 784h3v1h-3zM863 784h3v1h-3zM869 784h3v1h-3zM875 784h3v1h-3zM881 784h3v1h-3zM887 784h3v1h-3zM893 784h3v1h-3zM899 784h3v1h-3zM905 784h3v1h-3zM911 784h3v1h-3zM917 784h3v1h-3zM923 784h3v1h-3zM929 784h3v1h-3zM935 784h3v1h-3zM941 784h3v1h-3zM947 784h3v1h-3zM953 784h3v1h-3zM959 784h3v1h-3zM965 784h3v1h-3zM971 784h3v1h-3zM977 784h3v1h-3zM983 784h3v1h-3zM989 784h3v1h-3zM995 784h3v1h-3zM1001 784h3v1h-3zM1007 784h3v1h-3zM1013 784h3v1h-3zM1019 784h3v1h-3zM1025 784h3v1h-3zM1031 784h3v1h-3zM1037 784h3v1h-3zM1043 784h3v1h-3zM1049 784h3v1h-3zM1055 784h3v1h-3zM1061 784h3v1h-3zM1067 784h3v1h-3zM1073 784h3v1h-3zM1079 784h3v1h-3zM1085 784h3v1h-3zM1091 784h3v1h-3zM1097 784h3v1h-3zM1103 784h3v1h-3zM1109 784h3v1h-3zM1115 784h3v1h-3zM1121 784h3v1h-3zM1127 784h3v1h-3zM1133 784h3v1h-3zM1139 784h3v1h-3zM1145 784h3v1h-3zM1151 784h3v1h-3zM1157 784h3v1h-3zM1163 784h3v1h-3zM1169 784h3v1h-3zM1175 784h3v1h-3zM1181 784h3v1h-3zM1187 784h3v1h-3zM1193 784h3v1h-3zM1199 784h3v1h-3zM1205 784h3v1h-3zM1211 784h3v1h-3zM1217 784h3v1h-3zM1223 784h3v1h-3zM1229 784h3v1h-3zM1235 784h3v1h-3zM1241 784h3v1h-3zM1247 784h3v1h-3zM1253 784h3v1h-3zM1259 784h3v1h-3zM1265 784h3v1h-3zM1271 784h3v1h-3zM1277 784h3v1h-3zM1283 784h3v1h-3zM1289 784h3v1h-3zM1295 784h3v1h-3zM1301 784h3v1h-3zM1307 784h3v1h-3zM1313 784h3v1h-3zM1319 784h3v1h-3zM1325 784h3v1h-3zM1331 784h3v1h-3zM1337 784h3v1h-3zM1343 784h3v1h-3zM1349 784h3v1h-3zM1355 784h3v1h-3zM1361 784h3v1h-3zM1367 784h3v1h-3zM1373 784h3v1h-3zM1379 784h3v1h-3zM1385 784h3v1h-3zM1391 784h3v1h-3zM1397 784h3v1h-3zM1403 784h3v1h-3zM1409 784h3v1h-3zM1415 784h3v1h-3zM1421 784h3v1h-3zM1427 784h3v1h-3zM1433 784h3v1h-3zM1439 784h3v1h-3zM1445 784h3v1h-3zM1451 784h3v1h-3zM1457 784h3v1h-3zM1463 784h3v1h-3zM1469 784h3v1h-3zM1475 784h3v1h-3zM1481 784h3v1h-3zM1487 784h3v1h-3zM1493 784h3v1h-3zM1499 784h3v1h-3zM1505 784h3v1h-3zM1511 784h3v1h-3zM1517 784h3v1h-3zM1523 784h3v1h-3zM1529 784h3v1h-3zM1535 784h3v1h-3zM1541 784h3v1h-3zM1547 784h3v1h-3zM1553 784h3v1h-3zM1559 784h3v1h-3zM1565 784h3v1h-3zM1571 784h3v1h-3zM1577 784h3v1h-3zM1583 784h3v1h-3zM1589 784h3v1h-3zM1595 784h3v1h-3zM1601 784h3v1h-3zM1607 784h3v1h-3zM1613 784h3v1h-3zM1619 784h3v1h-3zM1625 784h3v1h-3zM1631 784h3v1h-3zM1637 784h3v1h-3zM1643 784h3v1h-3zM1649 784h3v1h-3zM1655 784h3v1h-3zM1661 784h3v1h-3zM1667 784h3v1h-3zM1673 784h3v1h-3z"/>
<rect x="1680" y="704" width="2" height="1" fill="#000"/>
<rect x="1680" y="738" width="2" height="1" fill="#000"/>
<rect x="1680" y="784" width="2" height="1" fill="#000"/>
<rect x="1680" y="817" width="2" height="1" fill="#000"/>
</g>
<g shape-rendering="crispEdges">
<path fill="#1e90ff" d="M37 759h1v2h-1zM39 762h1v2h-1zM41 765h1v2h-1zM43 768h1v2h-1zM53 776h1v2h-1zM54 778h1v2h-1zM56 781h1v2h-1zM58 784h1v2h-1zM59 786h1v2h-1zM69 792h1v2h-1zM71 789h1v2h-1zM73 786h1v2h-1zM75 783h1v2h-1zM92 779h1v2h-1zM93 777h1v2h-1zM94 775h1v2h-1zM95 772h1v3h-1zM96 770h1v2h-1zM97 767h1v3h-1zM98 765h1v2h-1zM99 763h1v2h-1zM100 761h1v2h-1zM112 763h1v2h-1zM174 778h1v2h-1zM178 773h1v2h-1zM208 762h1v2h-1zM541 739h1v2h-1zM542 741h1v2h-1zM543 743h1v2h-1zM544 745h1v2h-1zM545 747h1v2h-1zM546 749h1v2h-1zM547 751h1v2h-1zM654 748h1v2h-1zM658 743h1v2h-1zM741 742h1v2h-1zM742 744h1v2h-1zM743 746h1v2h-1zM744 748h1v2h-1zM745 750h1v2h-1zM746 752h1v2h-1zM747 754h1v2h-1zM838 771h1v2h-1zM842 776h1v2h-1zM845 777h1v2h-1zM846 775h1v2h-1zM847 773h1v2h-1zM849 770h1v2h-1zM850 768h1v2h-1zM851 766h1v2h-1zM950 774h1v2h-1zM954 769h1v2h-1zM981 767h1v2h-1zM983 770h1v2h-1zM985 773h1v2h-1zM987 776h1v2h-1zM1045 760h1v2h-1zM1047 757h1v2h-1zM1049 754h1v2h-1zM1051 751h1v2h-1zM1093 763h1v2h-1zM1094 765h1v2h-1zM1095 767h1v2h-1zM1096 769h1v2h-1zM1097 771h1v2h-1zM1098 773h1v2h-1zM1099 775h1v2h-1zM1157 780h1v2h-1zM1158 778h1v2h-1zM1160 775h1v2h-1zM1162 772h1v2h-1zM1163 770h1v2h-1zM1189 763h1v2h-1zM1190 761h1v2h-1zM1192 758h1v2h-1zM1194 755h1v2h-1zM1195 753h1v2h-1zM1285 756h1v2h-1zM1286 758h1v2h-1zM1288 761h1v2h-1zM1290 764h1v2h-1zM1291 766h1v2h-1zM1304 775h1v2h-1zM1342 772h1v2h-1zM1346 777h1v2h-1zM1388 779h1v2h-1zM1389 776h1v3h-1zM1390 774h1v2h-1zM1391 771h1v3h-1zM1392 768h1v3h-1zM1393 765h1v3h-1zM1394 763h1v2h-1zM1395 760h1v3h-1zM1396 758h1v2h-1zM1438 759h1v2h-1zM1442 754h1v2h-1zM468 735h3v1h-3zM529 735h5v1h-5zM724 735h1v1h-1zM466 736h2v1h-2zM471 736h4v1h-4zM524 736h5v1h-5zM534 736h3v1h-3zM676 736h3v1h-3zM697 736h13v1h-13zM722 736h2v1h-2zM725 736h1v1h-1zM427 737h4v1h-4zM464 737h2v1h-2zM475 737h11v1h-11zM522 737h2v1h-2zM537 737h2v1h-2zM674 737h2v1h-2zM679 737h4v1h-4zM689 737h8v1h-8zM710 737h2v1h-2zM721 737h1v1h-1zM726 737h1v1h-1zM423 738h4v1h-4zM431 738h4v1h-4zM449 738h8v1h-8zM462 738h2v1h-2zM486 738h2v1h-2zM507 738h4v1h-4zM520 738h2v1h-2zM539 738h2v1h-2zM672 738h2v1h-2zM683 738h6v1h-6zM712 738h2v1h-2zM719 738h2v1h-2zM727 738h2v1h-2zM387 739h4v1h-4zM417 739h6v1h-6zM435 739h14v1h-14zM457 739h5v1h-5zM488 739h2v1h-2zM505 739h2v1h-2zM511 739h4v1h-4zM518 739h2v1h-2zM670 739h2v1h-2zM714 739h2v1h-2zM717 739h2v1h-2zM729 739h1v1h-1zM383 740h4v1h-4zM391 740h4v1h-4zM411 740h6v1h-6zM490 740h2v1h-2zM502 740h3v1h-3zM515 740h3v1h-3zM665 740h5v1h-5zM716 740h1v1h-1zM730 740h1v1h-1zM1588 740h13v1h-13zM1609 740h4v1h-4zM377 741h6v1h-6zM395 741h6v1h-6zM407 741h4v1h-4zM492 741h10v1h-10zM660 741h5v1h-5zM731 741h1v1h-1zM737 741h4v1h-4zM1586 741h2v1h-2zM1601 741h8v1h-8zM1613 741h1v1h-1zM369 742h8v1h-8zM401 742h6v1h-6zM659 742h1v1h-1zM732 742h5v1h-5zM1584 742h2v1h-2zM1614 742h1v1h-1zM363 743h6v1h-6zM1582 743h2v1h-2zM1615 743h1v1h-1zM1657 743h3v1h-3zM359 744h4v1h-4zM1571 744h11v1h-11zM1616 744h1v1h-1zM1651 744h6v1h-6zM283 745h3v1h-3zM355 745h4v1h-4zM657 745h1v1h-1zM1060 745h3v1h-3zM1547 745h3v1h-3zM1567 745h4v1h-4zM1617 745h1v1h-1zM1649 745h2v1h-2zM259 746h4v1h-4zM281 746h2v1h-2zM286 746h3v1h-3zM353 746h2v1h-2zM656 746h1v1h-1zM1058 746h2v1h-2zM1063 746h4v1h-4zM1545 746h2v1h-2zM1550 746h2v1h-2zM1563 746h4v1h-4zM1618 746h1v1h-1zM1646 746h3v1h-3zM255 747h4v1h-4zM263 747h4v1h-4zM278 747h3v1h-3zM289 747h2v1h-2zM350 747h3v1h-3zM556 747h2v1h-2zM587 747h3v1h-3zM655 747h1v1h-1zM1057 747h1v1h-1zM1067 747h6v1h-6zM1497 747h4v1h-4zM1542 747h3v1h-3zM1552 747h2v1h-2zM1561 747h2v1h-2zM1619 747h1v1h-1zM1644 747h2v1h-2zM252 748h3v1h-3zM267 748h11v1h-11zM291 748h2v1h-2zM348 748h2v1h-2zM555 748h1v1h-1zM558 748h2v1h-2zM585 748h2v1h-2zM590 748h3v1h-3zM1055 748h2v1h-2zM1073 748h4v1h-4zM1492 748h5v1h-5zM1501 748h2v1h-2zM1540 748h2v1h-2zM1554 748h2v1h-2zM1558 748h3v1h-3zM1620 748h1v1h-1zM1642 748h2v1h-2zM251 749h1v1h-1zM293 749h2v1h-2zM347 749h1v1h-1zM553 749h2v1h-2zM560 749h2v1h-2zM582 749h3v1h-3zM593 749h2v1h-2zM644 749h3v1h-3zM1053 749h2v1h-2zM1077 749h1v1h-1zM1203 749h6v1h-6zM1491 749h1v1h-1zM1503 749h1v1h-1zM1539 749h1v1h-1zM1556 749h2v1h-2zM1621 749h2v1h-2zM1640 749h2v1h-2zM249 750h2v1h-2zM295 750h2v1h-2zM307 750h10v1h-10zM345 750h2v1h-2zM552 750h1v1h-1zM562 750h2v1h-2zM579 750h3v1h-3zM595 750h2v1h-2zM643 750h1v1h-1zM647 750h4v1h-4zM653 750h1v1h-1zM1052 750h1v1h-1zM1078 750h1v1h-1zM1201 750h2v1h-2zM1209 750h4v1h-4zM1489 750h2v1h-2zM1504 750h1v1h-1zM1537 750h2v1h-2zM1623 750h2v1h-2zM1638 750h2v1h-2zM248 751h1v1h-1zM297 751h1v1h-1zM305 751h2v1h-2zM317 751h2v1h-2zM344 751h1v1h-1zM551 751h1v1h-1zM564 751h5v1h-5zM575 751h4v1h-4zM597 751h1v1h-1zM642 751h1v1h-1zM651 751h2v1h-2zM1079 751h1v1h-1zM1198 751h3v1h-3zM1213 751h2v1h-2zM1488 751h1v1h-1zM1505 751h2v1h-2zM1536 751h1v1h-1zM1625 751h1v1h-1zM1635 751h3v1h-3zM247 752h1v1h-1zM298 752h2v1h-2zM302 752h3v1h-3zM319 752h1v1h-1zM343 752h1v1h-1zM549 752h2v1h-2zM569 752h6v1h-6zM598 752h1v1h-1zM612 752h2v1h-2zM641 752h1v1h-1zM1080 752h1v1h-1zM1196 752h2v1h-2zM1215 752h1v1h-1zM1444 752h2v1h-2zM1487 752h1v1h-1zM1507 752h1v1h-1zM1535 752h1v1h-1zM1626 752h2v1h-2zM1631 752h4v1h-4zM4 753h11v1h-11zM245 753h2v1h-2zM300 753h2v1h-2zM320 753h1v1h-1zM341 753h2v1h-2zM548 753h1v1h-1zM599 753h2v1h-2zM610 753h2v1h-2zM614 753h2v1h-2zM640 753h1v1h-1zM1050 753h1v1h-1zM1081 753h1v1h-1zM1216 753h1v1h-1zM1443 753h1v1h-1zM1446 753h3v1h-3zM1485 753h2v1h-2zM1508 753h2v1h-2zM1533 753h2v1h-2zM1628 753h3v1h-3zM15 754h4v1h-4zM243 754h2v1h-2zM321 754h2v1h-2zM337 754h4v1h-4zM601 754h1v1h-1zM609 754h1v1h-1zM616 754h2v1h-2zM639 754h1v1h-1zM1082 754h1v1h-1zM1217 754h2v1h-2zM1251 754h2v1h-2zM1411 754h2v1h-2zM1449 754h2v1h-2zM1483 754h2v1h-2zM1510 754h3v1h-3zM1529 754h4v1h-4zM19 755h3v1h-3zM228 755h5v1h-5zM239 755h4v1h-4zM323 755h1v1h-1zM329 755h8v1h-8zM602 755h1v1h-1zM607 755h2v1h-2zM618 755h2v1h-2zM638 755h1v1h-1zM1083 755h1v1h-1zM1219 755h1v1h-1zM1249 755h2v1h-2zM1253 755h2v1h-2zM1276 755h9v1h-9zM1409 755h2v1h-2zM1413 755h2v1h-2zM1451 755h3v1h-3zM1479 755h4v1h-4zM1513 755h2v1h-2zM1521 755h8v1h-8zM22 756h2v1h-2zM226 756h2v1h-2zM233 756h6v1h-6zM324 756h5v1h-5zM603 756h1v1h-1zM605 756h2v1h-2zM620 756h5v1h-5zM637 756h1v1h-1zM748 756h2v1h-2zM1048 756h1v1h-1zM1084 756h1v1h-1zM1220 756h2v1h-2zM1235 756h6v1h-6zM1246 756h3v1h-3zM1255 756h1v1h-1zM1274 756h2v1h-2zM1406 756h3v1h-3zM1415 756h1v1h-1zM1441 756h1v1h-1zM1454 756h2v1h-2zM1467 756h12v1h-12zM1515 756h6v1h-6zM24 757h2v1h-2zM224 757h2v1h-2zM604 757h1v1h-1zM625 757h12v1h-12zM750 757h3v1h-3zM1085 757h2v1h-2zM1193 757h1v1h-1zM1222 757h3v1h-3zM1233 757h2v1h-2zM1241 757h5v1h-5zM1256 757h1v1h-1zM1272 757h2v1h-2zM1401 757h5v1h-5zM1416 757h1v1h-1zM1440 757h1v1h-1zM1456 757h2v1h-2zM1465 757h2v1h-2zM26 758h2v1h-2zM33 758h4v1h-4zM212 758h5v1h-5zM222 758h2v1h-2zM753 758h2v1h-2zM812 758h1v1h-1zM891 758h2v1h-2zM1087 758h1v1h-1zM1225 758h2v1h-2zM1230 758h3v1h-3zM1257 758h2v1h-2zM1270 758h2v1h-2zM1397 758h4v1h-4zM1417 758h2v1h-2zM1439 758h1v1h-1zM1458 758h2v1h-2zM1462 758h3v1h-3zM28 759h5v1h-5zM107 759h2v1h-2zM211 759h1v1h-1zM217 759h5v1h-5zM755 759h2v1h-2zM811 759h1v1h-1zM813 759h2v1h-2zM889 759h2v1h-2zM893 759h1v1h-1zM1046 759h1v1h-1zM1088 759h1v1h-1zM1227 759h3v1h-3zM1259 759h1v1h-1zM1265 759h5v1h-5zM1419 759h1v1h-1zM1460 759h2v1h-2zM103 760h4v1h-4zM109 760h1v1h-1zM210 760h1v1h-1zM757 760h2v1h-2zM772 760h3v1h-3zM810 760h1v1h-1zM815 760h2v1h-2zM886 760h3v1h-3zM894 760h1v1h-1zM1089 760h2v1h-2zM1191 760h1v1h-1zM1260 760h5v1h-5zM1287 760h1v1h-1zM1420 760h2v1h-2zM38 761h1v1h-1zM101 761h2v1h-2zM110 761h1v1h-1zM209 761h1v1h-1zM759 761h1v1h-1zM770 761h2v1h-2zM775 761h4v1h-4zM809 761h1v1h-1zM817 761h1v1h-1zM884 761h2v1h-2zM895 761h1v1h-1zM1091 761h1v1h-1zM1422 761h3v1h-3zM1437 761h1v1h-1zM111 762h1v1h-1zM760 762h1v1h-1zM769 762h1v1h-1zM779 762h10v1h-10zM807 762h2v1h-2zM818 762h2v1h-2zM882 762h2v1h-2zM896 762h1v1h-1zM1043 762h2v1h-2zM1092 762h1v1h-1zM1425 762h2v1h-2zM1433 762h4v1h-4zM761 763h2v1h-2zM767 763h2v1h-2zM789 763h1v1h-1zM806 763h1v1h-1zM820 763h1v1h-1zM881 763h1v1h-1zM897 763h1v1h-1zM1041 763h2v1h-2zM1289 763h1v1h-1zM1427 763h6v1h-6zM40 764h1v1h-1zM207 764h1v1h-1zM763 764h1v1h-1zM765 764h2v1h-2zM790 764h1v1h-1zM805 764h1v1h-1zM821 764h2v1h-2zM879 764h2v1h-2zM898 764h1v1h-1zM1038 764h3v1h-3zM1180 764h5v1h-5zM113 765h1v1h-1zM195 765h4v1h-4zM206 765h1v1h-1zM764 765h1v1h-1zM791 765h2v1h-2zM804 765h1v1h-1zM823 765h2v1h-2zM852 765h2v1h-2zM877 765h2v1h-2zM899 765h1v1h-1zM1036 765h2v1h-2zM1178 765h2v1h-2zM1185 765h4v1h-4zM114 766h1v1h-1zM191 766h4v1h-4zM199 766h4v1h-4zM205 766h1v1h-1zM793 766h1v1h-1zM802 766h2v1h-2zM825 766h1v1h-1zM854 766h3v1h-3zM876 766h1v1h-1zM900 766h2v1h-2zM979 766h2v1h-2zM1035 766h1v1h-1zM1176 766h2v1h-2zM42 767h1v1h-1zM115 767h1v1h-1zM188 767h3v1h-3zM203 767h2v1h-2zM794 767h1v1h-1zM800 767h2v1h-2zM826 767h2v1h-2zM857 767h2v1h-2zM875 767h1v1h-1zM902 767h3v1h-3zM915 767h3v1h-3zM956 767h1v1h-1zM975 767h4v1h-4zM1033 767h2v1h-2zM1174 767h2v1h-2zM116 768h1v1h-1zM140 768h9v1h-9zM186 768h2v1h-2zM795 768h1v1h-1zM798 768h2v1h-2zM828 768h5v1h-5zM859 768h2v1h-2zM874 768h1v1h-1zM905 768h2v1h-2zM911 768h4v1h-4zM918 768h3v1h-3zM955 768h1v1h-1zM957 768h2v1h-2zM972 768h3v1h-3zM1032 768h1v1h-1zM1169 768h5v1h-5zM1292 768h2v1h-2zM117 769h2v1h-2zM139 769h1v1h-1zM149 769h1v1h-1zM184 769h2v1h-2zM796 769h2v1h-2zM833 769h4v1h-4zM861 769h2v1h-2zM873 769h1v1h-1zM907 769h4v1h-4zM921 769h2v1h-2zM959 769h1v1h-1zM970 769h2v1h-2zM982 769h1v1h-1zM1011 769h6v1h-6zM1031 769h1v1h-1zM1164 769h5v1h-5zM1294 769h3v1h-3zM44 770h1v1h-1zM119 770h2v1h-2zM137 770h2v1h-2zM150 770h1v1h-1zM182 770h2v1h-2zM837 770h1v1h-1zM863 770h1v1h-1zM872 770h1v1h-1zM923 770h2v1h-2zM960 770h1v1h-1zM969 770h1v1h-1zM1007 770h4v1h-4zM1017 770h8v1h-8zM1029 770h2v1h-2zM1297 770h2v1h-2zM1340 770h1v1h-1zM45 771h2v1h-2zM121 771h1v1h-1zM136 771h1v1h-1zM151 771h2v1h-2zM180 771h2v1h-2zM864 771h1v1h-1zM871 771h1v1h-1zM925 771h1v1h-1zM953 771h1v1h-1zM961 771h2v1h-2zM967 771h2v1h-2zM1004 771h3v1h-3zM1025 771h4v1h-4zM1299 771h2v1h-2zM1339 771h1v1h-1zM1341 771h1v1h-1zM47 772h2v1h-2zM122 772h2v1h-2zM135 772h1v1h-1zM153 772h1v1h-1zM179 772h1v1h-1zM848 772h1v1h-1zM865 772h2v1h-2zM870 772h1v1h-1zM926 772h1v1h-1zM952 772h1v1h-1zM963 772h1v1h-1zM965 772h2v1h-2zM984 772h1v1h-1zM1003 772h1v1h-1zM1301 772h1v1h-1zM1337 772h2v1h-2zM49 773h1v1h-1zM124 773h5v1h-5zM133 773h2v1h-2zM154 773h1v1h-1zM839 773h1v1h-1zM867 773h1v1h-1zM869 773h1v1h-1zM927 773h2v1h-2zM951 773h1v1h-1zM964 773h1v1h-1zM1002 773h1v1h-1zM1302 773h1v1h-1zM1336 773h1v1h-1zM50 774h2v1h-2zM129 774h4v1h-4zM155 774h1v1h-1zM840 774h1v1h-1zM868 774h1v1h-1zM929 774h1v1h-1zM1001 774h1v1h-1zM1161 774h1v1h-1zM1303 774h1v1h-1zM1335 774h1v1h-1zM1343 774h1v1h-1zM52 775h1v1h-1zM156 775h2v1h-2zM177 775h1v1h-1zM841 775h1v1h-1zM930 775h1v1h-1zM986 775h1v1h-1zM999 775h2v1h-2zM1147 775h2v1h-2zM1324 775h5v1h-5zM1333 775h2v1h-2zM1344 775h1v1h-1zM158 776h3v1h-3zM176 776h1v1h-1zM931 776h1v1h-1zM949 776h1v1h-1zM998 776h1v1h-1zM1145 776h2v1h-2zM1149 776h1v1h-1zM1323 776h1v1h-1zM1329 776h4v1h-4zM1345 776h1v1h-1zM161 777h2v1h-2zM175 777h1v1h-1zM932 777h5v1h-5zM945 777h4v1h-4zM997 777h1v1h-1zM1100 777h2v1h-2zM1142 777h3v1h-3zM1150 777h1v1h-1zM1159 777h1v1h-1zM1305 777h1v1h-1zM1322 777h1v1h-1zM1380 777h2v1h-2zM163 778h3v1h-3zM843 778h1v1h-1zM937 778h8v1h-8zM988 778h9v1h-9zM1102 778h2v1h-2zM1140 778h2v1h-2zM1151 778h2v1h-2zM1306 778h1v1h-1zM1321 778h1v1h-1zM1378 778h2v1h-2zM1382 778h3v1h-3zM166 779h3v1h-3zM844 779h1v1h-1zM1104 779h2v1h-2zM1138 779h2v1h-2zM1153 779h1v1h-1zM1307 779h1v1h-1zM1319 779h2v1h-2zM1347 779h1v1h-1zM1376 779h2v1h-2zM1385 779h2v1h-2zM55 780h1v1h-1zM91 780h1v1h-1zM169 780h2v1h-2zM173 780h1v1h-1zM1106 780h2v1h-2zM1113 780h6v1h-6zM1136 780h2v1h-2zM1154 780h1v1h-1zM1308 780h3v1h-3zM1318 780h1v1h-1zM1348 780h3v1h-3zM1363 780h6v1h-6zM1374 780h2v1h-2zM1387 780h1v1h-1zM89 781h2v1h-2zM171 781h2v1h-2zM1108 781h5v1h-5zM1119 781h4v1h-4zM1134 781h2v1h-2zM1155 781h1v1h-1zM1311 781h4v1h-4zM1317 781h1v1h-1zM1351 781h4v1h-4zM1359 781h4v1h-4zM1369 781h5v1h-5zM76 782h5v1h-5zM86 782h3v1h-3zM1123 782h11v1h-11zM1156 782h1v1h-1zM1315 782h2v1h-2zM1355 782h4v1h-4zM57 783h1v1h-1zM81 783h5v1h-5zM74 785h1v1h-1zM60 788h1v1h-1zM72 788h1v1h-1zM61 789h2v1h-2zM63 790h1v1h-1zM64 791h1v1h-1zM70 791h1v1h-1zM65 792h2v1h-2zM67 793h1v1h-1zM68 794h1v1h-1z"/>
</g>
<text transform="translate(8 715) scale(1 1.0817)" font-size="9.3" fill="#000" stroke="#000" stroke-width="0.12" textLength="67.5" lengthAdjust="spacingAndGlyphs">RSI(14)&#160;65.3215</text>
<text transform="translate(1683 713) scale(1 1.0817)" font-size="9.3" fill="#000" stroke="#000" stroke-width="0.12">100</text>
<text transform="translate(1683 742) scale(1 1.0817)" font-size="9.3" fill="#000" stroke="#000" stroke-width="0.12">70</text>
<text transform="translate(1683 788) scale(1 1.0817)" font-size="9.3" fill="#000" stroke="#000" stroke-width="0.12">30</text>
<text transform="translate(1683 817) scale(1 1.0817)" font-size="9.3" fill="#000" stroke="#000" stroke-width="0.12">0</text>
<g shape-rendering="crispEdges">
<rect x="4" y="820" width="1" height="3" fill="#000"/>
<rect x="68" y="820" width="1" height="3" fill="#000"/>
<rect x="132" y="820" width="1" height="3" fill="#000"/>
<rect x="196" y="820" width="1" height="3" fill="#000"/>
<rect x="260" y="820" width="1" height="3" fill="#000"/>
<rect x="324" y="820" width="1" height="3" fill="#000"/>
<rect x="388" y="820" width="1" height="3" fill="#000"/>
<rect x="452" y="820" width="1" height="3" fill="#000"/>
<rect x="516" y="820" width="1" height="3" fill="#000"/>
<rect x="580" y="820" width="1" height="3" fill="#000"/>
<rect x="644" y="820" width="1" height="3" fill="#000"/>
<rect x="708" y="820" width="1" height="3" fill="#000"/>
<rect x="772" y="820" width="1" height="3" fill="#000"/>
<rect x="836" y="820" width="1" height="3" fill="#000"/>
<rect x="900" y="820" width="1" height="3" fill="#000"/>
<rect x="964" y="820" width="1" height="3" fill="#000"/>
<rect x="1028" y="820" width="1" height="3" fill="#000"/>
<rect x="1092" y="820" width="1" height="3" fill="#000"/>
<rect x="1156" y="820" width="1" height="3" fill="#000"/>
<rect x="1220" y="820" width="1" height="3" fill="#000"/>
<rect x="1284" y="820" width="1" height="3" fill="#000"/>
<rect x="1348" y="820" width="1" height="3" fill="#000"/>
<rect x="1412" y="820" width="1" height="3" fill="#000"/>
<rect x="1476" y="820" width="1" height="3" fill="#000"/>
<rect x="1540" y="820" width="1" height="3" fill="#000"/>
<rect x="1604" y="820" width="1" height="3" fill="#000"/>
</g>
<text transform="translate(3 832) scale(1 1.1116)" font-size="9.05" fill="#000" stroke="#000" stroke-width="0.12">26&#160;Jan&#160;2021</text>
<text transform="translate(67 832) scale(1 1.0817)" font-size="9.3" fill="#000" stroke="#000" stroke-width="0.12">27&#160;Jan&#160;20:00</text>
<text transform="translate(131 832) scale(1 1.0817)" font-size="9.3" fill="#000" stroke="#000" stroke-width="0.12">29&#160;Jan&#160;04:00</text>
<text transform="translate(195 832) scale(1 1.0817)" font-size="9.3" fill="#000" stroke="#000" stroke-width="0.12">1&#160;Feb&#160;08:00</text>
<text transform="translate(259 832) scale(1 1.0817)" font-size="9.3" fill="#000" stroke="#000" stroke-width="0.12">2&#160;Feb&#160;16:00</text>
<text transform="translate(323 832) scale(1 1.0817)" font-size="9.3" fill="#000" stroke="#000" stroke-width="0.12">4&#160;Feb&#160;00:00</text>
<text transform="translate(387 832) scale(1 1.0817)" font-size="9.3" fill="#000" stroke="#000" stroke-width="0.12">5&#160;Feb&#160;08:00</text>
<text transform="translate(451 832) scale(1 1.0817)" font-size="9.3" fill="#000" stroke="#000" stroke-width="0.12">8&#160;Feb&#160;12:00</text>
<text transform="translate(515 832) scale(1 1.0817)" font-size="9.3" fill="#000" stroke="#000" stroke-width="0.12">9&#160;Feb&#160;20:00</text>
<text transform="translate(579 832) scale(1 1.0817)" font-size="9.3" fill="#000" stroke="#000" stroke-width="0.12">11&#160;Feb&#160;04:00</text>
<text transform="translate(643 832) scale(1 1.0817)" font-size="9.3" fill="#000" stroke="#000" stroke-width="0.12">12&#160;Feb&#160;12:00</text>
<text transform="translate(707 832) scale(1 1.0817)" font-size="9.3" fill="#000" stroke="#000" stroke-width="0.12">15&#160;Feb&#160;16:00</text>
<text transform="translate(771 832) scale(1 1.0817)" font-size="9.3" fill="#000" stroke="#000" stroke-width="0.12">17&#160;Feb&#160;00:00</text>
<text transform="translate(835 832) scale(1 1.0817)" font-size="9.3" fill="#000" stroke="#000" stroke-width="0.12">18&#160;Feb&#160;08:00</text>
<text transform="translate(899 832) scale(1 1.0817)" font-size="9.3" fill="#000" stroke="#000" stroke-width="0.12">19&#160;Feb&#160;16:00</text>
<text transform="translate(963 832) scale(1 1.0817)" font-size="9.3" fill="#000" stroke="#000" stroke-width="0.12">22&#160;Feb&#160;20:00</text>
<text transform="translate(1027 832) scale(1 1.0817)" font-size="9.3" fill="#000" stroke="#000" stroke-width="0.12">24&#160;Feb&#160;04:00</text>
<text transform="translate(1091 832) scale(1 1.0817)" font-size="9.3" fill="#000" stroke="#000" stroke-width="0.12">25&#160;Feb&#160;12:00</text>
<text transform="translate(1155 832) scale(1 1.0817)" font-size="9.3" fill="#000" stroke="#000" stroke-width="0.12">26&#160;Feb&#160;20:00</text>
<text transform="translate(1219 832) scale(1 1.0817)" font-size="9.3" fill="#000" stroke="#000" stroke-width="0.12">2&#160;Mar&#160;00:00</text>
<text transform="translate(1283 832) scale(1 1.0817)" font-size="9.3" fill="#000" stroke="#000" stroke-width="0.12">3&#160;Mar&#160;08:00</text>
<text transform="translate(1347 832) scale(1 1.0817)" font-size="9.3" fill="#000" stroke="#000" stroke-width="0.12">4&#160;Mar&#160;16:00</text>
<text transform="translate(1411 832) scale(1 1.0817)" font-size="9.3" fill="#000" stroke="#000" stroke-width="0.12">7&#160;Mar&#160;23:00</text>
<text transform="translate(1475 832) scale(1 1.0817)" font-size="9.3" fill="#000" stroke="#000" stroke-width="0.12">9&#160;Mar&#160;04:00</text>
<text transform="translate(1539 832) scale(1 1.0817)" font-size="9.3" fill="#000" stroke="#000" stroke-width="0.12">10&#160;Mar&#160;12:00</text>
<text transform="translate(1603 832) scale(1 1.0817)" font-size="9.3" fill="#000" stroke="#000" stroke-width="0.12">11&#160;Mar&#160;20:00</text>
</svg>
</body></html>
